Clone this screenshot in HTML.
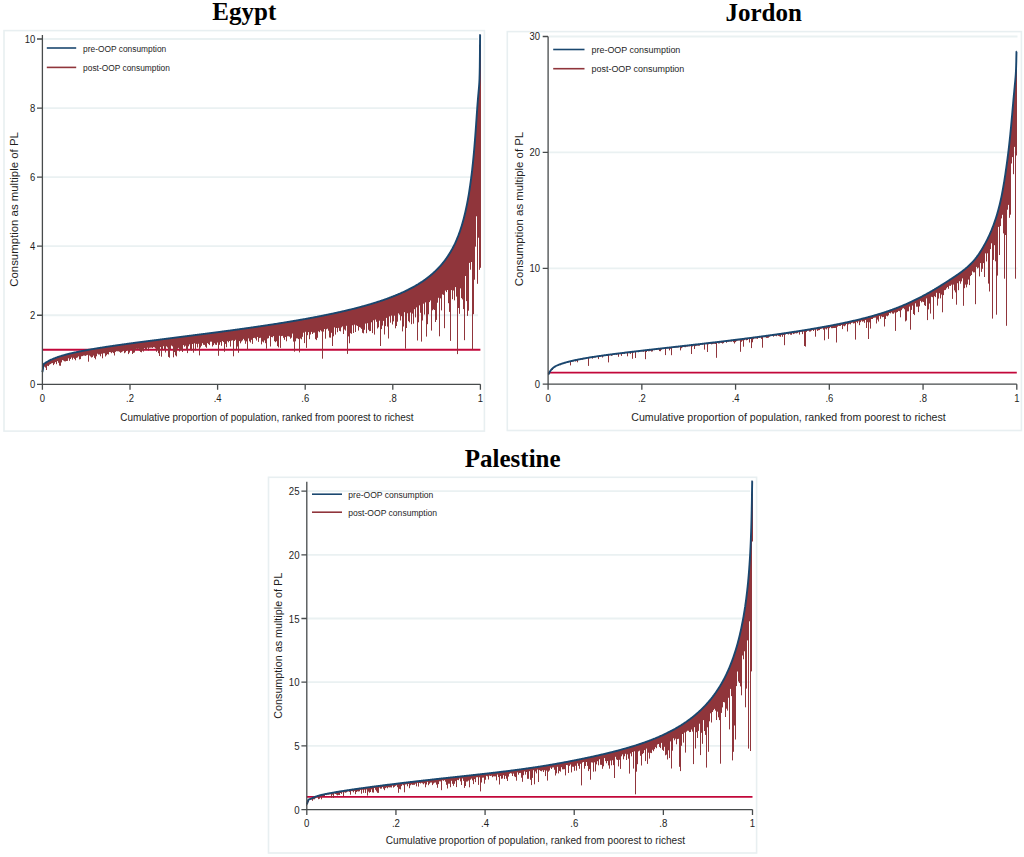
<!DOCTYPE html>
<html><head><meta charset="utf-8"><title>OOP consumption</title>
<style>html,body{margin:0;padding:0;background:#fff;}svg{display:block;}</style></head>
<body><svg width="1024" height="857" viewBox="0 0 1024 857">
<rect width="1024" height="857" fill="#fff"/>
<text x="244.3" y="20" font-family="'Liberation Serif', serif" font-weight="bold" font-size="25" text-anchor="middle" fill="#000">Egypt</text>
<rect x="4" y="30.6" width="480.4" height="400.5" fill="none" stroke="#e8eff1" stroke-width="1.6"/>
<path d="M43.2 315.24H478M43.2 246.18H478M43.2 177.12H478M43.2 108.06H478M43.2 39H478" stroke="#eaf1f2" stroke-width="1.8" fill="none"/>
<path d="M42.4 349.77H480.4" stroke="#c2073a" stroke-width="1.8" fill="none"/>
<path d="M42.5 367.8V374.4M43.5 363.8V367.5M44.5 363.1V366.7M45.5 362.5V367.6M46.5 361.9V370.0M47.5 361.3V365.8M48.5 360.8V366.1M49.5 360.3V364.7M50.5 359.8V364.1M51.5 359.4V363.4M52.5 358.9V363.1M53.5 358.5V365.1M54.5 358.1V363.7M55.5 357.7V362.1M56.5 357.4V364.2M57.5 357.0V361.1M58.5 356.7V362.8M59.5 356.3V365.6M60.5 356.0V365.8M61.5 355.7V362.4M62.5 355.4V360.1M63.5 355.1V360.6M64.5 354.9V361.3M65.5 354.6V361.4M66.5 354.3V361.0M67.5 354.1V360.9M68.5 353.8V358.3M69.5 353.6V360.8M70.5 353.3V359.0M71.5 353.1V357.6M72.5 352.9V359.6M73.5 352.7V357.8M74.5 352.4V358.9M75.5 352.2V360.3M76.5 352.0V357.9M77.5 351.8V357.5M78.5 351.6V356.4M79.5 351.4V359.4M80.5 351.2V359.1M81.5 351.0V356.3M82.5 350.8V356.1M83.5 350.6V355.6M84.5 350.4V355.6M85.5 350.2V355.9M86.5 350.1V355.3M87.5 349.9V354.9M88.5 349.7V361.7M89.5 349.5V355.5M90.5 349.4V356.5M91.5 349.2V357.5M92.5 349.0V357.1M93.5 348.8V355.6M94.5 348.7V357.9M95.5 348.5V359.3M96.5 348.3V356.3M97.5 348.2V353.7M98.5 348.0V354.5M99.5 347.9V354.5M100.5 347.7V356.3M101.5 347.5V353.8M102.5 347.4V358.3M103.5 347.2V353.3M104.5 347.1V353.3M105.5 346.9V356.5M106.5 346.8V355.3M107.5 346.6V354.1M108.5 346.5V354.5M109.5 346.3V352.0M110.5 346.2V352.2M111.5 346.0V353.2M112.5 345.9V352.2M113.5 345.7V353.1M114.5 345.6V355.5M115.5 345.4V351.9M116.5 345.3V351.2M117.5 345.2V351.3M118.5 345.0V351.3M119.5 344.9V351.8M120.5 344.7V352.8M121.5 344.6V352.2M122.5 344.4V351.5M123.5 344.3V350.6M124.5 344.2V353.2M125.5 344.0V352.4M126.5 343.9V351.0M127.5 343.8V349.8M128.5 343.6V354.1M129.5 343.5V352.6M130.5 343.3V349.9M131.5 343.2V349.3M132.5 343.1V354.0M133.5 342.9V352.9M134.5 342.8V352.5M135.5 342.7V350.0M136.5 342.5V348.8M137.5 342.4V349.8M138.5 342.3V348.8M139.5 342.1V350.6M140.5 342.0V351.9M141.5 341.9V352.3M142.5 341.7V350.5M143.5 341.6V351.6M144.5 341.5V348.1M145.5 341.4V349.9M146.5 341.2V349.8M147.5 341.1V347.7M148.5 341.0V350.5M149.5 340.8V347.8M150.5 340.7V347.7M151.5 340.6V347.6M152.5 340.4V348.0M153.5 340.3V347.2M154.5 340.2V347.4M155.5 340.1V348.5M156.5 339.9V351.8M157.5 339.8V349.7M158.5 339.7V353.2M159.5 339.5V356.0M160.5 339.4V347.1M161.5 339.3V356.7M162.5 339.2V349.1M163.5 339.0V346.2M164.5 338.9V349.2M165.5 338.8V352.5M166.5 338.7V346.4M167.5 338.5V347.5M168.5 338.4V356.9M169.5 338.3V357.7M170.5 338.1V349.2M171.5 338.0V345.6M172.5 337.9V346.4M173.5 337.8V357.3M174.5 337.6V352.1M175.5 337.5V355.4M176.5 337.4V356.4M177.5 337.3V348.9M178.5 337.1V347.9M179.5 337.0V351.5M180.5 336.9V350.2M181.5 336.8V349.9M182.5 336.6V352.0M183.5 336.5V345.1M184.5 336.4V346.7M185.5 336.2V345.7M186.5 336.1V349.8M187.5 336.0V353.1M188.5 335.9V346.3M189.5 335.7V344.4M190.5 335.6V349.3M191.5 335.5V350.6M192.5 335.4V344.0M193.5 335.2V352.7M194.5 335.1V343.3M195.5 335.0V350.6M196.5 334.8V343.9M197.5 334.7V347.5M198.5 334.6V343.8M199.5 334.5V355.4M200.5 334.3V347.5M201.5 334.2V345.8M202.5 334.1V343.2M203.5 333.9V344.8M204.5 333.8V344.9M205.5 333.7V346.7M206.5 333.6V347.8M207.5 333.4V343.1M208.5 333.3V344.1M209.5 333.2V345.1M210.5 333.0V341.7M211.5 332.9V341.7M212.5 332.8V346.5M213.5 332.6V345.1M214.5 332.5V343.3M215.5 332.4V344.7M216.5 332.2V344.9M217.5 332.1V342.5M218.5 332.0V355.8M219.5 331.9V344.8M220.5 331.7V342.2M221.5 331.6V345.8M222.5 331.5V341.1M223.5 331.3V342.1M224.5 331.2V351.8M225.5 331.1V343.9M226.5 330.9V347.2M227.5 330.8V341.2M228.5 330.7V342.3M229.5 330.5V341.0M230.5 330.4V346.6M231.5 330.2V340.7M232.5 330.1V340.3M233.5 330.0V342.4M234.5 329.8V340.9M235.5 329.7V339.8M236.5 329.6V349.0M237.5 329.4V346.5M238.5 329.3V352.8M239.5 329.1V341.1M240.5 329.0V343.3M241.5 328.9V341.5M242.5 328.7V340.4M243.5 328.6V338.9M244.5 328.5V340.5M245.5 328.3V343.8M246.5 328.2V341.4M247.5 328.0V349.9M248.5 327.9V338.4M249.5 327.7V341.3M250.5 327.6V342.5M251.5 327.5V339.8M252.5 327.3V343.9M253.5 327.2V338.0M254.5 327.0V337.8M255.5 326.9V338.6M256.5 326.7V340.5M257.5 326.6V337.0M258.5 326.4V341.9M259.5 326.3V338.1M260.5 326.1V337.8M261.5 326.0V344.4M262.5 325.8V341.5M263.5 325.7V342.4M264.5 325.5V340.4M265.5 325.4V343.2M266.5 325.2V348.7M267.5 325.1V338.6M268.5 324.9V338.2M269.5 324.8V335.8M270.5 324.6V346.5M271.5 324.5V337.0M272.5 324.3V337.3M273.5 324.2V336.1M274.5 324.0V341.2M275.5 323.9V342.2M276.5 323.7V341.2M277.5 323.5V346.1M278.5 323.4V347.4M279.5 323.2V335.8M280.5 323.1V347.9M281.5 322.9V336.1M282.5 322.8V335.9M283.5 322.6V337.8M284.5 322.4V339.8M285.5 322.3V337.0M286.5 322.1V341.3M287.5 321.9V336.3M288.5 321.8V336.3M289.5 321.6V336.7M290.5 321.4V338.7M291.5 321.3V337.7M292.5 321.1V333.6M293.5 320.9V341.6M294.5 320.8V351.7M295.5 320.6V341.3M296.5 320.4V338.4M297.5 320.2V338.4M298.5 320.1V339.1M299.5 319.9V352.4M300.5 319.7V338.5M301.5 319.5V339.3M302.5 319.4V336.8M303.5 319.2V332.7M304.5 319.0V343.1M305.5 318.8V331.8M306.5 318.6V347.9M307.5 318.5V335.2M308.5 318.3V332.1M309.5 318.1V339.2M310.5 317.9V334.5M311.5 317.7V331.9M312.5 317.5V334.0M313.5 317.3V332.7M314.5 317.2V332.6M315.5 317.0V339.2M316.5 316.8V340.1M317.5 316.6V337.8M318.5 316.4V331.3M319.5 316.2V332.2M320.5 316.0V330.3M321.5 315.8V331.4M322.5 315.6V330.3M323.5 315.4V331.6M324.5 315.2V329.0M325.5 315.0V338.7M326.5 314.8V329.3M327.5 314.6V328.7M328.5 314.4V330.7M329.5 314.2V337.5M330.5 313.9V337.7M331.5 313.7V332.8M332.5 313.5V346.0M333.5 313.3V336.3M334.5 313.1V327.4M335.5 312.9V334.6M336.5 312.6V328.0M337.5 312.4V332.2M338.5 312.2V327.9M339.5 312.0V330.9M340.5 311.8V331.4M341.5 311.5V327.4M342.5 311.3V326.4M343.5 311.1V334.0M344.5 310.8V329.5M345.5 310.6V330.6M346.5 310.4V325.8M347.5 310.1V333.5M348.5 309.9V336.4M349.5 309.6V343.3M350.5 309.4V333.2M351.5 309.1V333.8M352.5 308.9V325.3M353.5 308.6V333.0M354.5 308.4V324.7M355.5 308.1V332.0M356.5 307.9V325.4M357.5 307.6V326.0M358.5 307.3V330.6M359.5 307.1V327.1M360.5 306.8V327.7M361.5 306.5V328.9M362.5 306.3V332.8M363.5 306.0V333.4M364.5 305.7V329.8M365.5 305.4V323.6M366.5 305.1V333.2M367.5 304.9V323.2M368.5 304.6V329.8M369.5 304.3V331.2M370.5 304.0V331.0M371.5 303.7V322.3M372.5 303.4V333.1M373.5 303.1V320.3M374.5 302.7V334.6M375.5 302.4V319.6M376.5 302.1V321.8M377.5 301.8V328.5M378.5 301.5V327.3M379.5 301.1V320.7M380.5 300.8V346.0M381.5 300.5V329.1M382.5 300.1V325.6M383.5 299.8V320.9M384.5 299.4V334.5M385.5 299.1V326.1M386.5 298.7V317.9M387.5 298.4V326.6M388.5 298.0V338.5M389.5 297.6V316.4M390.5 297.2V322.7M391.5 296.8V315.6M392.5 296.5V324.5M393.5 296.1V321.4M394.5 295.7V315.7M395.5 295.3V328.3M396.5 294.8V326.0M397.5 294.4V321.7M398.5 294.0V313.4M399.5 293.6V314.7M400.5 293.1V320.5M401.5 292.7V316.2M402.5 292.2V331.4M403.5 291.7V326.5M404.5 291.3V312.2M405.5 290.8V313.1M406.5 290.3V328.0M407.5 289.8V313.3M408.5 289.3V321.2M409.5 288.8V322.4M410.5 288.3V312.5M411.5 287.7V324.2M412.5 287.2V313.6M413.5 286.6V323.7M414.5 286.1V309.2M415.5 285.5V317.4M416.5 284.9V307.4M417.5 284.3V340.5M418.5 283.7V322.3M419.5 283.0V305.4M420.5 282.4V312.8M421.5 281.7V341.6M422.5 281.1V320.5M423.5 280.4V303.7M424.5 279.6V314.5M425.5 278.9V302.4M426.5 278.2V336.6M427.5 277.4V324.2M428.5 276.6V314.3M429.5 275.8V302.1M430.5 275.0V300.5M431.5 274.1V330.6M432.5 273.3V310.3M433.5 272.4V309.3M434.5 271.4V310.0M435.5 270.5V322.0M436.5 269.5V319.9M437.5 268.5V302.7M438.5 267.4V297.8M439.5 266.3V310.9M440.5 265.2V298.4M441.5 264.0V310.4M442.5 262.8V294.4M443.5 261.6V294.9M444.5 260.3V328.2M445.5 258.9V290.6M446.5 257.5V292.1M447.5 256.0V290.0M448.5 254.5V303.2M449.5 252.8V311.9M450.5 251.1V340.9M451.5 249.4V290.1M452.5 247.5V299.2M453.5 245.5V290.5M454.5 243.5V300.4M455.5 241.3V287.1M456.5 238.9V296.6M457.5 236.5V354.1M458.5 233.8V308.0M459.5 231.0V313.8M460.5 228.0V288.4M461.5 224.8V298.1M462.5 221.3V299.4M463.5 217.5V309.1M464.5 213.5V340.2M465.5 209.0V276.0M466.5 204.2V272.9M467.5 198.9V315.9M468.5 193.1V310.7M469.5 186.6V262.9M470.5 179.4V269.7M471.5 171.3V262.0M472.5 162.1V265.0M473.5 151.6V314.2M474.5 139.6V279.7M475.5 126.1V246.6M476.5 111.6V216.3M477.5 98.4V283.8M478.5 87.2V237.7M479.5 44.7V269.8M480.5 34.8V267.8M322.5 315.7V358.7M233.5 330.0V356.3M347.5 310.2V353.9M405.5 291.0V348.7M472.5 166.9V349.8M439.5 266.9V336.3M466.5 206.7V301.1" stroke="#90353b" stroke-width="1" fill="none"/>
<polyline points="42.40,372.21 42.89,369.38 43.37,365.10 43.86,363.92 44.35,363.48 44.84,363.21 45.32,362.93 45.81,362.64 46.30,362.34 46.78,362.05 47.27,361.76 47.76,361.48 48.25,361.21 48.73,360.94 49.22,360.68 49.71,360.44 50.20,360.19 50.68,359.96 51.17,359.73 51.66,359.50 52.14,359.29 52.63,359.07 53.12,358.87 53.61,358.66 54.09,358.46 54.58,358.27 55.07,358.08 55.55,357.89 56.04,357.71 56.53,357.53 57.02,357.35 57.50,357.18 57.99,357.01 58.48,356.84 58.97,356.68 59.45,356.52 59.94,356.36 60.43,356.21 60.91,356.05 61.40,355.90 61.89,355.75 62.38,355.61 62.86,355.47 63.35,355.32 63.84,355.18 64.32,355.05 64.81,354.91 65.30,354.78 65.79,354.65 66.27,354.52 66.76,354.39 67.25,354.26 67.73,354.14 68.22,354.02 68.71,353.89 69.20,353.77 69.68,353.66 70.17,353.54 70.66,353.42 71.15,353.31 71.63,353.19 72.12,353.08 72.61,352.97 73.09,352.86 73.58,352.75 74.07,352.64 74.56,352.53 75.04,352.43 75.53,352.32 76.02,352.22 76.50,352.11 76.99,352.01 77.48,351.91 77.97,351.81 78.45,351.71 78.94,351.61 79.43,351.51 79.92,351.41 80.40,351.32 80.89,351.22 81.38,351.12 81.86,351.03 82.35,350.94 82.84,350.84 83.33,350.75 83.81,350.66 84.30,350.56 84.79,350.47 85.27,350.38 85.76,350.29 86.25,350.20 86.74,350.11 87.22,350.02 87.71,349.94 88.20,349.85 88.68,349.76 89.17,349.68 89.66,349.59 90.15,349.50 90.63,349.42 91.12,349.33 91.61,349.25 92.10,349.17 92.58,349.08 93.07,349.00 93.56,348.92 94.04,348.83 94.53,348.75 95.02,348.67 95.51,348.59 95.99,348.51 96.48,348.43 96.97,348.35 97.45,348.27 97.94,348.19 98.43,348.11 98.92,348.03 99.40,347.95 99.89,347.88 100.38,347.80 100.86,347.72 101.35,347.64 101.84,347.57 102.33,347.49 102.81,347.41 103.30,347.34 103.79,347.26 104.28,347.19 104.76,347.11 105.25,347.04 105.74,346.96 106.22,346.89 106.71,346.81 107.20,346.74 107.69,346.66 108.17,346.59 108.66,346.52 109.15,346.44 109.63,346.37 110.12,346.30 110.61,346.23 111.10,346.15 111.58,346.08 112.07,346.01 112.56,345.94 113.05,345.87 113.53,345.80 114.02,345.72 114.51,345.65 114.99,345.58 115.48,345.51 115.97,345.44 116.46,345.37 116.94,345.30 117.43,345.23 117.92,345.16 118.40,345.09 118.89,345.02 119.38,344.95 119.87,344.88 120.35,344.82 120.84,344.75 121.33,344.68 121.81,344.61 122.30,344.54 122.79,344.47 123.28,344.41 123.76,344.34 124.25,344.27 124.74,344.20 125.23,344.13 125.71,344.07 126.20,344.00 126.69,343.93 127.17,343.87 127.66,343.80 128.15,343.73 128.64,343.67 129.12,343.60 129.61,343.53 130.10,343.47 130.58,343.40 131.07,343.33 131.56,343.27 132.05,343.20 132.53,343.14 133.02,343.07 133.51,343.01 134.00,342.94 134.48,342.87 134.97,342.81 135.46,342.74 135.94,342.68 136.43,342.61 136.92,342.55 137.41,342.48 137.89,342.42 138.38,342.35 138.87,342.29 139.35,342.23 139.84,342.16 140.33,342.10 140.82,342.03 141.30,341.97 141.79,341.90 142.28,341.84 142.76,341.78 143.25,341.71 143.74,341.65 144.23,341.58 144.71,341.52 145.20,341.46 145.69,341.39 146.18,341.33 146.66,341.27 147.15,341.20 147.64,341.14 148.12,341.08 148.61,341.01 149.10,340.95 149.59,340.89 150.07,340.82 150.56,340.76 151.05,340.70 151.53,340.63 152.02,340.57 152.51,340.51 153.00,340.45 153.48,340.38 153.97,340.32 154.46,340.26 154.95,340.19 155.43,340.13 155.92,340.07 156.41,340.01 156.89,339.94 157.38,339.88 157.87,339.82 158.36,339.76 158.84,339.69 159.33,339.63 159.82,339.57 160.30,339.51 160.79,339.45 161.28,339.38 161.77,339.32 162.25,339.26 162.74,339.20 163.23,339.13 163.71,339.07 164.20,339.01 164.69,338.95 165.18,338.89 165.66,338.82 166.15,338.76 166.64,338.70 167.13,338.64 167.61,338.58 168.10,338.51 168.59,338.45 169.07,338.39 169.56,338.33 170.05,338.27 170.54,338.21 171.02,338.14 171.51,338.08 172.00,338.02 172.48,337.96 172.97,337.90 173.46,337.83 173.95,337.77 174.43,337.71 174.92,337.65 175.41,337.59 175.89,337.53 176.38,337.46 176.87,337.40 177.36,337.34 177.84,337.28 178.33,337.22 178.82,337.15 179.31,337.09 179.79,337.03 180.28,336.97 180.77,336.91 181.25,336.85 181.74,336.78 182.23,336.72 182.72,336.66 183.20,336.60 183.69,336.54 184.18,336.47 184.66,336.41 185.15,336.35 185.64,336.29 186.13,336.23 186.61,336.17 187.10,336.10 187.59,336.04 188.08,335.98 188.56,335.92 189.05,335.86 189.54,335.79 190.02,335.73 190.51,335.67 191.00,335.61 191.49,335.55 191.97,335.48 192.46,335.42 192.95,335.36 193.43,335.30 193.92,335.23 194.41,335.17 194.90,335.11 195.38,335.05 195.87,334.99 196.36,334.92 196.84,334.86 197.33,334.80 197.82,334.74 198.31,334.67 198.79,334.61 199.28,334.55 199.77,334.49 200.26,334.42 200.74,334.36 201.23,334.30 201.72,334.24 202.20,334.17 202.69,334.11 203.18,334.05 203.67,333.98 204.15,333.92 204.64,333.86 205.13,333.80 205.61,333.73 206.10,333.67 206.59,333.61 207.08,333.54 207.56,333.48 208.05,333.42 208.54,333.35 209.03,333.29 209.51,333.23 210.00,333.16 210.49,333.10 210.97,333.04 211.46,332.97 211.95,332.91 212.44,332.85 212.92,332.78 213.41,332.72 213.90,332.66 214.38,332.59 214.87,332.53 215.36,332.46 215.85,332.40 216.33,332.34 216.82,332.27 217.31,332.21 217.79,332.14 218.28,332.08 218.77,332.02 219.26,331.95 219.74,331.89 220.23,331.82 220.72,331.76 221.21,331.69 221.69,331.63 222.18,331.56 222.67,331.50 223.15,331.43 223.64,331.37 224.13,331.30 224.62,331.24 225.10,331.17 225.59,331.11 226.08,331.04 226.56,330.98 227.05,330.91 227.54,330.85 228.03,330.78 228.51,330.72 229.00,330.65 229.49,330.58 229.98,330.52 230.46,330.45 230.95,330.39 231.44,330.32 231.92,330.26 232.41,330.19 232.90,330.12 233.39,330.06 233.87,329.99 234.36,329.92 234.85,329.86 235.33,329.79 235.82,329.72 236.31,329.66 236.80,329.59 237.28,329.52 237.77,329.46 238.26,329.39 238.74,329.32 239.23,329.25 239.72,329.19 240.21,329.12 240.69,329.05 241.18,328.98 241.67,328.92 242.16,328.85 242.64,328.78 243.13,328.71 243.62,328.64 244.10,328.58 244.59,328.51 245.08,328.44 245.57,328.37 246.05,328.30 246.54,328.23 247.03,328.16 247.51,328.10 248.00,328.03 248.49,327.96 248.98,327.89 249.46,327.82 249.95,327.75 250.44,327.68 250.93,327.61 251.41,327.54 251.90,327.47 252.39,327.40 252.87,327.33 253.36,327.26 253.85,327.19 254.34,327.12 254.82,327.05 255.31,326.98 255.80,326.91 256.28,326.84 256.77,326.77 257.26,326.70 257.75,326.62 258.23,326.55 258.72,326.48 259.21,326.41 259.69,326.34 260.18,326.27 260.67,326.19 261.16,326.12 261.64,326.05 262.13,325.98 262.62,325.91 263.11,325.83 263.59,325.76 264.08,325.69 264.57,325.61 265.05,325.54 265.54,325.47 266.03,325.40 266.52,325.32 267.00,325.25 267.49,325.17 267.98,325.10 268.46,325.03 268.95,324.95 269.44,324.88 269.93,324.80 270.41,324.73 270.90,324.65 271.39,324.58 271.87,324.50 272.36,324.43 272.85,324.35 273.34,324.28 273.82,324.20 274.31,324.13 274.80,324.05 275.29,323.98 275.77,323.90 276.26,323.82 276.75,323.75 277.23,323.67 277.72,323.59 278.21,323.52 278.70,323.44 279.18,323.36 279.67,323.28 280.16,323.21 280.64,323.13 281.13,323.05 281.62,322.97 282.11,322.90 282.59,322.82 283.08,322.74 283.57,322.66 284.06,322.58 284.54,322.50 285.03,322.42 285.52,322.34 286.00,322.26 286.49,322.18 286.98,322.10 287.47,322.02 287.95,321.94 288.44,321.86 288.93,321.78 289.41,321.70 289.90,321.62 290.39,321.54 290.88,321.46 291.36,321.38 291.85,321.29 292.34,321.21 292.82,321.13 293.31,321.05 293.80,320.96 294.29,320.88 294.77,320.80 295.26,320.72 295.75,320.63 296.24,320.55 296.72,320.46 297.21,320.38 297.70,320.30 298.18,320.21 298.67,320.13 299.16,320.04 299.65,319.96 300.13,319.87 300.62,319.79 301.11,319.70 301.59,319.61 302.08,319.53 302.57,319.44 303.06,319.35 303.54,319.27 304.03,319.18 304.52,319.09 305.01,319.01 305.49,318.92 305.98,318.83 306.47,318.74 306.95,318.65 307.44,318.56 307.93,318.48 308.42,318.39 308.90,318.30 309.39,318.21 309.88,318.12 310.36,318.03 310.85,317.94 311.34,317.85 311.83,317.75 312.31,317.66 312.80,317.57 313.29,317.48 313.77,317.39 314.26,317.30 314.75,317.20 315.24,317.11 315.72,317.02 316.21,316.92 316.70,316.83 317.19,316.74 317.67,316.64 318.16,316.55 318.65,316.45 319.13,316.36 319.62,316.26 320.11,316.17 320.60,316.07 321.08,315.97 321.57,315.88 322.06,315.78 322.54,315.68 323.03,315.59 323.52,315.49 324.01,315.39 324.49,315.29 324.98,315.19 325.47,315.09 325.96,314.99 326.44,314.89 326.93,314.79 327.42,314.69 327.90,314.59 328.39,314.49 328.88,314.39 329.37,314.29 329.85,314.19 330.34,314.09 330.83,313.98 331.31,313.88 331.80,313.78 332.29,313.67 332.78,313.57 333.26,313.46 333.75,313.36 334.24,313.25 334.72,313.15 335.21,313.04 335.70,312.94 336.19,312.83 336.67,312.72 337.16,312.61 337.65,312.51 338.14,312.40 338.62,312.29 339.11,312.18 339.60,312.07 340.08,311.96 340.57,311.85 341.06,311.74 341.55,311.63 342.03,311.52 342.52,311.41 343.01,311.29 343.49,311.18 343.98,311.07 344.47,310.95 344.96,310.84 345.44,310.72 345.93,310.61 346.42,310.49 346.91,310.38 347.39,310.26 347.88,310.15 348.37,310.03 348.85,309.91 349.34,309.79 349.83,309.67 350.32,309.55 350.80,309.43 351.29,309.31 351.78,309.19 352.26,309.07 352.75,308.95 353.24,308.83 353.73,308.71 354.21,308.58 354.70,308.46 355.19,308.33 355.67,308.21 356.16,308.08 356.65,307.96 357.14,307.83 357.62,307.70 358.11,307.58 358.60,307.45 359.09,307.32 359.57,307.19 360.06,307.06 360.55,306.93 361.03,306.80 361.52,306.67 362.01,306.53 362.50,306.40 362.98,306.27 363.47,306.13 363.96,306.00 364.44,305.86 364.93,305.73 365.42,305.59 365.91,305.45 366.39,305.31 366.88,305.17 367.37,305.04 367.85,304.89 368.34,304.75 368.83,304.61 369.32,304.47 369.80,304.33 370.29,304.18 370.78,304.04 371.27,303.89 371.75,303.75 372.24,303.60 372.73,303.45 373.21,303.30 373.70,303.15 374.19,303.00 374.68,302.85 375.16,302.70 375.65,302.55 376.14,302.39 376.62,302.24 377.11,302.08 377.60,301.93 378.09,301.77 378.57,301.61 379.06,301.45 379.55,301.29 380.04,301.13 380.52,300.97 381.01,300.81 381.50,300.64 381.98,300.48 382.47,300.31 382.96,300.14 383.45,299.98 383.93,299.81 384.42,299.64 384.91,299.47 385.39,299.30 385.88,299.12 386.37,298.95 386.86,298.77 387.34,298.60 387.83,298.42 388.32,298.24 388.80,298.06 389.29,297.88 389.78,297.70 390.27,297.51 390.75,297.33 391.24,297.14 391.73,296.95 392.22,296.76 392.70,296.57 393.19,296.38 393.68,296.19 394.16,296.00 394.65,295.80 395.14,295.60 395.63,295.40 396.11,295.20 396.60,295.00 397.09,294.80 397.57,294.60 398.06,294.39 398.55,294.18 399.04,293.97 399.52,293.76 400.01,293.55 400.50,293.34 400.99,293.12 401.47,292.90 401.96,292.68 402.45,292.46 402.93,292.24 403.42,292.02 403.91,291.79 404.40,291.56 404.88,291.33 405.37,291.10 405.86,290.86 406.34,290.63 406.83,290.39 407.32,290.15 407.81,289.91 408.29,289.66 408.78,289.42 409.27,289.17 409.75,288.92 410.24,288.66 410.73,288.41 411.22,288.15 411.70,287.89 412.19,287.62 412.68,287.36 413.17,287.09 413.65,286.82 414.14,286.55 414.63,286.27 415.11,285.99 415.60,285.71 416.09,285.43 416.58,285.14 417.06,284.85 417.55,284.55 418.04,284.26 418.52,283.96 419.01,283.66 419.50,283.35 419.99,283.04 420.47,282.73 420.96,282.41 421.45,282.09 421.94,281.77 422.42,281.44 422.91,281.11 423.40,280.78 423.88,280.44 424.37,280.10 424.86,279.75 425.35,279.40 425.83,279.05 426.32,278.69 426.81,278.32 427.29,277.95 427.78,277.58 428.27,277.20 428.76,276.82 429.24,276.43 429.73,276.04 430.22,275.64 430.70,275.24 431.19,274.83 431.68,274.42 432.17,274.00 432.65,273.57 433.14,273.14 433.63,272.70 434.12,272.26 434.60,271.81 435.09,271.35 435.58,270.89 436.06,270.42 436.55,269.94 437.04,269.45 437.53,268.96 438.01,268.46 438.50,267.95 438.99,267.43 439.47,266.90 439.96,266.37 440.45,265.82 440.94,265.27 441.42,264.71 441.91,264.14 442.40,263.55 442.88,262.96 443.37,262.35 443.86,261.74 444.35,261.11 444.83,260.47 445.32,259.82 445.81,259.16 446.30,258.48 446.78,257.79 447.27,257.08 447.76,256.36 448.24,255.62 448.73,254.87 449.22,254.10 449.71,253.32 450.19,252.52 450.68,251.69 451.17,250.85 451.65,249.99 452.14,249.11 452.63,248.21 453.12,247.28 453.60,246.33 454.09,245.36 454.58,244.35 455.07,243.33 455.55,242.27 456.04,241.18 456.53,240.07 457.01,238.92 457.50,237.73 457.99,236.51 458.48,235.25 458.96,233.95 459.45,232.60 459.94,231.21 460.42,229.78 460.91,228.29 461.40,226.75 461.89,225.16 462.37,223.51 462.86,221.80 463.35,220.02 463.83,218.17 464.32,216.26 464.81,214.26 465.30,212.18 465.78,210.02 466.27,207.76 466.76,205.40 467.25,202.94 467.73,200.36 468.22,197.66 468.71,194.83 469.19,191.86 469.68,188.73 470.17,185.44 470.66,181.96 471.14,178.29 471.63,174.40 471.64,174.32 471.79,173.09 471.94,171.83 472.09,170.55 472.12,170.28 472.23,169.25 472.38,167.92 472.53,166.57 472.60,165.89 472.68,165.19 472.83,163.78 472.98,162.35 473.09,161.21 473.12,160.89 473.27,159.39 473.42,157.87 473.57,156.31 473.58,156.22 473.72,154.72 473.87,153.10 474.02,151.45 474.07,150.87 474.16,149.76 474.31,148.03 474.46,146.28 474.55,145.17 474.61,144.49 474.76,142.66 474.91,140.80 475.04,139.09 475.05,138.90 475.20,136.97 475.35,135.01 475.50,133.01 475.53,132.64 475.65,130.99 475.80,128.93 475.95,126.85 476.02,125.86 476.09,124.74 476.24,122.61 476.39,120.46 476.50,118.85 476.54,118.30 476.69,116.14 476.84,113.98 476.99,111.84 476.99,111.77 477.13,109.72 477.28,107.64 477.43,105.62 477.48,105.00 477.58,103.65 477.73,101.74 477.88,99.89 477.96,98.82 478.02,98.10 478.17,96.37 478.32,94.69 478.45,93.26 478.47,93.06 478.62,91.46 478.77,89.85 478.92,88.21 478.94,87.94 479.06,86.44 479.21,84.43 479.36,81.96 479.43,80.66 479.51,78.67 479.66,73.85 479.81,66.02 479.91,56.74 479.95,51.67 480.10,34.84 480.25,34.84 480.40,34.84" stroke="#1a476f" stroke-width="1.9" fill="none" stroke-linejoin="round" stroke-linecap="butt"/>
<path d="M42.4 35V384.3H480.4M37 384.3H42.4M37 315.24H42.4M37 246.18H42.4M37 177.12H42.4M37 108.06H42.4M37 39H42.4M42.4 384.3V389.8M130 384.3V389.8M217.6 384.3V389.8M305.2 384.3V389.8M392.8 384.3V389.8M480.4 384.3V389.8" stroke="#474b4c" stroke-width="1.3" fill="none"/>
<text transform="translate(35.3 388.23) scale(0.930 1)" font-family="'Liberation Sans', sans-serif" font-weight="normal" font-size="10.2" text-anchor="end" fill="#1e1e1e">0</text>
<text transform="translate(35.3 319.17) scale(0.930 1)" font-family="'Liberation Sans', sans-serif" font-weight="normal" font-size="10.2" text-anchor="end" fill="#1e1e1e">2</text>
<text transform="translate(35.3 250.11) scale(0.930 1)" font-family="'Liberation Sans', sans-serif" font-weight="normal" font-size="10.2" text-anchor="end" fill="#1e1e1e">4</text>
<text transform="translate(35.3 181.05) scale(0.930 1)" font-family="'Liberation Sans', sans-serif" font-weight="normal" font-size="10.2" text-anchor="end" fill="#1e1e1e">6</text>
<text transform="translate(35.3 111.99) scale(0.930 1)" font-family="'Liberation Sans', sans-serif" font-weight="normal" font-size="10.2" text-anchor="end" fill="#1e1e1e">8</text>
<text transform="translate(35.3 42.93) scale(0.930 1)" font-family="'Liberation Sans', sans-serif" font-weight="normal" font-size="10.2" text-anchor="end" fill="#1e1e1e">10</text>
<text transform="translate(42.4 401.95) scale(0.930 1)" font-family="'Liberation Sans', sans-serif" font-weight="normal" font-size="10.2" text-anchor="middle" fill="#1e1e1e">0</text>
<text transform="translate(130 401.95) scale(0.930 1)" font-family="'Liberation Sans', sans-serif" font-weight="normal" font-size="10.2" text-anchor="middle" fill="#1e1e1e">.2</text>
<text transform="translate(217.6 401.95) scale(0.930 1)" font-family="'Liberation Sans', sans-serif" font-weight="normal" font-size="10.2" text-anchor="middle" fill="#1e1e1e">.4</text>
<text transform="translate(305.2 401.95) scale(0.930 1)" font-family="'Liberation Sans', sans-serif" font-weight="normal" font-size="10.2" text-anchor="middle" fill="#1e1e1e">.6</text>
<text transform="translate(392.8 401.95) scale(0.930 1)" font-family="'Liberation Sans', sans-serif" font-weight="normal" font-size="10.2" text-anchor="middle" fill="#1e1e1e">.8</text>
<text transform="translate(480.4 401.95) scale(0.930 1)" font-family="'Liberation Sans', sans-serif" font-weight="normal" font-size="10.2" text-anchor="middle" fill="#1e1e1e">1</text>
<text transform="translate(266.9 421) scale(0.909 1)" font-family="'Liberation Sans', sans-serif" font-weight="normal" font-size="10.9" text-anchor="middle" fill="#1e1e1e">Cumulative proportion of population, ranked from poorest to richest</text>
<text transform="translate(17.9 209.45) rotate(-90)" font-family="'Liberation Sans', sans-serif" font-size="11.2" text-anchor="middle" fill="#1e1e1e" textLength="154.6" lengthAdjust="spacingAndGlyphs">Consumption as multiple of PL</text>
<path d="M46.8 48H76.2" stroke="#1a476f" stroke-width="1.6"/>
<path d="M46.8 67.4H76.2" stroke="#90353b" stroke-width="1.6"/>
<text transform="translate(83.1 52) scale(0.930 1)" font-family="'Liberation Sans', sans-serif" font-weight="normal" font-size="9.0" text-anchor="start" fill="#1e1e1e">pre-OOP consumption</text>
<text transform="translate(83.1 71.1) scale(0.930 1)" font-family="'Liberation Sans', sans-serif" font-weight="normal" font-size="9.0" text-anchor="start" fill="#1e1e1e">post-OOP consumption</text>
<text x="763.7" y="20.9" font-family="'Liberation Serif', serif" font-weight="bold" font-size="25" text-anchor="middle" fill="#000">Jordon</text>
<rect x="507.3" y="31.6" width="514.1" height="398.9" fill="none" stroke="#e8eff1" stroke-width="1.6"/>
<path d="M548.9 268.3H1017.5M548.9 152.4H1017.5M548.9 36.5H1017.5" stroke="#eaf1f2" stroke-width="1.8" fill="none"/>
<path d="M548.1 372.61H1016.8" stroke="#c2073a" stroke-width="1.8" fill="none"/>
<path d="M548.5 373.3V374.5M549.5 371.5V374.0M550.5 370.1V371.4M551.5 368.9V369.7M552.5 368.0V370.0M553.5 367.2V368.0M554.5 366.5V367.3M555.5 366.0V366.7M556.5 365.5V366.0M557.5 365.1V365.7M558.5 364.7V365.4M559.5 364.3V365.1M560.5 364.0V365.2M561.5 363.6V364.1M562.5 363.3V364.0M563.5 363.0V363.7M564.5 362.7V363.3M565.5 362.4V363.2M566.5 362.1V363.0M567.5 361.9V362.7M568.5 361.6V362.3M569.5 361.3V362.0M570.5 361.1V365.4M571.5 360.9V361.5M572.5 360.6V361.5M573.5 360.4V361.4M574.5 360.2V361.0M575.5 360.0V361.5M576.5 359.8V361.1M577.5 359.6V362.3M578.5 359.4V360.0M579.5 359.2V359.8M580.5 359.0V359.8M581.5 358.8V359.5M582.5 358.6V359.6M583.5 358.5V359.2M584.5 358.3V358.7M585.5 358.1V359.1M586.5 357.9V358.4M587.5 357.8V358.2M588.5 357.6V365.9M589.5 357.4V358.1M590.5 357.3V357.7M591.5 357.1V357.7M592.5 357.0V358.7M593.5 356.8V357.5M594.5 356.7V357.4M595.5 356.5V357.5M596.5 356.4V356.8M597.5 356.2V357.0M598.5 356.1V359.1M599.5 355.9V356.8M600.5 355.8V356.8M601.5 355.6V356.1M602.5 355.5V357.5M603.5 355.4V356.2M604.5 355.2V355.9M605.5 355.1V356.1M606.5 355.0V355.9M607.5 354.8V356.0M608.5 354.7V362.4M609.5 354.6V355.3M610.5 354.4V355.0M611.5 354.3V355.9M612.5 354.2V355.3M613.5 354.0V354.6M614.5 353.9V354.6M615.5 353.8V354.3M616.5 353.7V354.8M617.5 353.5V354.4M618.5 353.4V356.8M619.5 353.3V354.1M620.5 353.2V354.1M621.5 353.0V355.9M622.5 352.9V353.7M623.5 352.8V353.8M624.5 352.7V353.9M625.5 352.5V353.2M626.5 352.4V353.1M627.5 352.3V356.3M628.5 352.2V353.1M629.5 352.1V353.3M630.5 351.9V353.9M631.5 351.8V352.4M632.5 351.7V358.8M633.5 351.6V352.6M634.5 351.5V352.1M635.5 351.3V358.0M636.5 351.2V351.8M637.5 351.1V351.8M638.5 351.0V352.3M639.5 350.9V351.7M640.5 350.8V351.4M641.5 350.6V351.3M642.5 350.5V351.5M643.5 350.4V351.8M644.5 350.3V351.3M645.5 350.2V359.2M646.5 350.1V352.0M647.5 350.0V350.8M648.5 349.8V351.3M649.5 349.7V351.2M650.5 349.6V350.6M651.5 349.5V351.6M652.5 349.4V351.4M653.5 349.3V349.9M654.5 349.2V350.1M655.5 349.0V350.0M656.5 348.9V350.0M657.5 348.8V349.6M658.5 348.7V349.4M659.5 348.6V351.1M660.5 348.5V351.2M661.5 348.4V349.7M662.5 348.3V349.0M663.5 348.1V348.9M664.5 348.0V348.6M665.5 347.9V355.1M666.5 347.8V348.5M667.5 347.7V348.3M668.5 347.6V348.4M669.5 347.5V350.4M670.5 347.4V348.7M671.5 347.2V348.1M672.5 347.1V347.8M673.5 347.0V347.8M674.5 346.9V347.6M675.5 346.8V347.6M676.5 346.7V347.3M677.5 346.6V347.5M678.5 346.4V347.3M679.5 346.3V347.0M680.5 346.2V350.4M681.5 346.1V348.2M682.5 346.0V347.4M683.5 345.9V346.8M684.5 345.8V347.1M685.5 345.7V347.2M686.5 345.5V346.6M687.5 345.4V346.5M688.5 345.3V346.3M689.5 345.2V346.3M690.5 345.1V346.1M691.5 345.0V354.0M692.5 344.9V346.5M693.5 344.7V345.6M694.5 344.6V349.0M695.5 344.5V346.1M696.5 344.4V345.7M697.5 344.3V345.6M698.5 344.2V345.7M699.5 344.1V345.7M700.5 343.9V344.7M701.5 343.8V344.6M702.5 343.7V344.7M703.5 343.6V344.3M704.5 343.5V349.6M705.5 343.4V344.1M706.5 343.2V344.2M707.5 343.1V352.0M708.5 343.0V344.4M709.5 342.9V343.8M710.5 342.8V343.9M711.5 342.7V344.4M712.5 342.5V344.1M713.5 342.4V343.8M714.5 342.3V343.8M715.5 342.2V344.0M716.5 342.1V342.9M717.5 342.0V342.8M718.5 341.8V343.5M719.5 341.7V343.4M720.5 341.6V342.6M721.5 341.5V343.0M722.5 341.4V343.6M723.5 341.2V343.1M724.5 341.1V342.0M725.5 341.0V341.9M726.5 340.9V342.8M727.5 340.8V341.7M728.5 340.6V341.7M729.5 340.5V341.5M730.5 340.4V341.4M731.5 340.3V341.7M732.5 340.1V341.0M733.5 340.0V342.1M734.5 339.9V343.5M735.5 339.8V342.1M736.5 339.7V341.2M737.5 339.5V340.7M738.5 339.4V340.4M739.5 339.3V340.5M740.5 339.2V351.8M741.5 339.0V341.8M742.5 338.9V340.7M743.5 338.8V346.7M744.5 338.6V340.1M745.5 338.5V339.4M746.5 338.4V340.3M747.5 338.3V340.0M748.5 338.1V339.0M749.5 338.0V342.5M750.5 337.9V338.8M751.5 337.7V348.1M752.5 337.6V342.3M753.5 337.5V339.2M754.5 337.4V338.4M755.5 337.2V338.4M756.5 337.1V338.5M757.5 337.0V338.9M758.5 336.8V337.7M759.5 336.7V337.9M760.5 336.6V337.5M761.5 336.4V338.9M762.5 336.3V338.4M763.5 336.2V337.2M764.5 336.0V337.3M765.5 335.9V337.3M766.5 335.7V337.9M767.5 335.6V337.9M768.5 335.5V337.7M769.5 335.3V336.7M770.5 335.2V336.1M771.5 335.1V336.1M772.5 334.9V335.9M773.5 334.8V336.7M774.5 334.6V335.6M775.5 334.5V335.7M776.5 334.4V336.2M777.5 334.2V335.2M778.5 334.1V335.9M779.5 333.9V336.3M780.5 333.8V336.8M781.5 333.6V335.1M782.5 333.5V336.8M783.5 333.3V335.0M784.5 333.2V345.2M785.5 333.0V334.6M786.5 332.9V333.9M787.5 332.7V334.1M788.5 332.6V334.5M789.5 332.4V333.6M790.5 332.3V334.7M791.5 332.1V334.8M792.5 332.0V333.3M793.5 331.8V334.1M794.5 331.7V333.6M795.5 331.5V333.2M796.5 331.4V333.4M797.5 331.2V333.1M798.5 331.1V332.3M799.5 330.9V334.6M800.5 330.7V331.8M801.5 330.6V331.8M802.5 330.4V334.1M803.5 330.3V331.6M804.5 330.1V346.0M805.5 329.9V346.6M806.5 329.8V331.9M807.5 329.6V330.8M808.5 329.5V330.6M809.5 329.3V331.6M810.5 329.1V331.5M811.5 329.0V330.7M812.5 328.8V330.0M813.5 328.6V331.0M814.5 328.4V329.7M815.5 328.3V336.7M816.5 328.1V329.4M817.5 327.9V330.9M818.5 327.7V330.2M819.5 327.6V330.1M820.5 327.4V329.0M821.5 327.2V328.7M822.5 327.0V328.4M823.5 326.9V329.7M824.5 326.7V340.3M825.5 326.5V328.7M826.5 326.3V329.4M827.5 326.1V328.2M828.5 325.9V338.9M829.5 325.7V328.2M830.5 325.5V327.2M831.5 325.4V328.2M832.5 325.2V328.2M833.5 325.0V328.0M834.5 324.8V328.0M835.5 324.6V327.9M836.5 324.4V326.8M837.5 324.2V326.7M838.5 324.0V325.9M839.5 323.8V326.0M840.5 323.6V325.9M841.5 323.4V325.0M842.5 323.1V329.1M843.5 322.9V325.7M844.5 322.7V326.3M845.5 322.5V325.4M846.5 322.3V324.0M847.5 322.1V331.5M848.5 321.8V324.4M849.5 321.6V323.8M850.5 321.4V324.3M851.5 321.2V322.9M852.5 320.9V322.7M853.5 320.7V323.5M854.5 320.5V323.2M855.5 320.2V339.6M856.5 320.0V321.9M857.5 319.8V323.2M858.5 319.5V321.4M859.5 319.3V325.2M860.5 319.0V322.2M861.5 318.8V320.7M862.5 318.5V321.7M863.5 318.3V321.3M864.5 318.0V322.8M865.5 317.7V320.0M866.5 317.5V328.0M867.5 317.2V322.2M868.5 316.9V319.1M869.5 316.7V322.3M870.5 316.4V328.6M871.5 316.1V319.0M872.5 315.8V319.0M873.5 315.6V317.9M874.5 315.3V317.7M875.5 315.0V317.6M876.5 314.7V323.5M877.5 314.4V319.6M878.5 314.1V321.5M879.5 313.8V316.1M880.5 313.5V318.8M881.5 313.1V316.4M882.5 312.8V317.2M883.5 312.5V316.9M884.5 312.2V326.5M885.5 311.8V319.0M886.5 311.5V315.8M887.5 311.2V316.3M888.5 310.8V315.3M889.5 310.5V313.0M890.5 310.1V313.4M891.5 309.8V312.3M892.5 309.4V313.5M893.5 309.0V313.7M894.5 308.6V312.5M895.5 308.3V330.9M896.5 307.9V312.5M897.5 307.5V312.0M898.5 307.1V310.9M899.5 306.7V311.2M900.5 306.3V317.3M901.5 305.9V310.2M902.5 305.5V308.6M903.5 305.0V308.2M904.5 304.6V309.3M905.5 304.2V321.4M906.5 303.7V320.5M907.5 303.3V311.4M908.5 302.8V311.3M909.5 302.4V306.6M910.5 301.9V313.6M911.5 301.5V309.9M912.5 301.0V305.6M913.5 300.5V314.0M914.5 300.0V315.1M915.5 299.5V303.3M916.5 299.0V306.7M917.5 298.5V306.7M918.5 298.0V312.1M919.5 297.5V306.4M920.5 297.0V300.9M921.5 296.5V302.4M922.5 295.9V301.6M923.5 295.4V302.0M924.5 294.9V305.2M925.5 294.3V306.0M926.5 293.8V298.4M927.5 293.2V320.1M928.5 292.6V309.4M929.5 292.1V303.5M930.5 291.5V313.6M931.5 290.9V296.8M932.5 290.3V297.2M933.5 289.7V299.7M934.5 289.1V296.2M935.5 288.5V297.1M936.5 287.9V292.8M937.5 287.3V305.6M938.5 286.7V298.6M939.5 286.1V293.2M940.5 285.5V298.4M941.5 284.8V294.6M942.5 284.2V312.3M943.5 283.6V295.1M944.5 282.9V290.2M945.5 282.3V289.9M946.5 281.6V288.4M947.5 281.0V287.1M948.5 280.4V288.8M949.5 279.7V285.8M950.5 279.0V285.9M951.5 278.4V284.7M952.5 277.7V298.9M953.5 277.1V284.6M954.5 276.4V290.4M955.5 275.7V292.4M956.5 275.0V304.7M957.5 274.3V283.2M958.5 273.6V290.2M959.5 272.9V281.2M960.5 272.2V283.7M961.5 271.4V281.4M962.5 270.7V278.4M963.5 269.9V305.8M964.5 269.1V288.2M965.5 268.3V284.6M966.5 267.4V287.4M967.5 266.5V284.4M968.5 265.6V279.6M969.5 264.7V285.1M970.5 263.7V276.1M971.5 262.6V275.0M972.5 261.6V271.4M973.5 260.4V272.4M974.5 259.2V272.3M975.5 258.0V267.8M976.5 256.6V266.9M977.5 255.2V268.4M978.5 253.8V267.6M979.5 252.3V276.4M980.5 250.7V263.1M981.5 249.1V271.9M982.5 247.4V268.8M983.5 245.6V263.1M984.5 243.8V277.0M985.5 242.0V253.4M986.5 240.0V261.5M987.5 238.0V253.3M988.5 235.9V283.6M989.5 233.7V256.1M990.5 231.4V249.1M991.5 229.0V243.3M992.5 226.4V318.6M993.5 223.7V259.9M994.5 220.9V245.2M995.5 217.9V261.3M996.5 214.6V253.9M997.5 211.1V275.6M998.5 207.4V226.9M999.5 203.3V255.0M1000.5 198.9V226.1M1001.5 194.0V218.4M1002.5 188.6V214.8M1003.5 182.8V233.4M1004.5 176.5V226.5M1005.5 169.7V235.0M1006.5 162.5V325.8M1007.5 154.9V209.7M1008.5 146.6V204.9M1009.5 137.3V217.8M1010.5 127.2V214.7M1011.5 116.2V163.5M1012.5 104.9V157.1M1013.5 93.8V174.2M1014.5 83.3V146.9M1015.5 70.2V195.9M1016.5 51.7V155.5M716.5 342.1V357.8M671.5 347.3V355.2M762.5 336.4V347.7M836.5 324.5V342.5M868.5 317.1V339.0M910.5 302.2V329.7M933.5 290.0V319.3M975.5 258.6V304.2M989.5 234.8V291.5M996.5 216.3V314.7M1004.5 179.7V278.7M1015.5 77.8V278.7" stroke="#90353b" stroke-width="1" fill="none"/>
<polyline points="548.10,374.35 548.62,374.06 549.14,372.97 549.66,372.00 550.19,371.17 550.71,370.43 551.23,369.78 551.75,369.19 552.27,368.66 552.79,368.18 553.31,367.74 553.83,367.33 554.36,366.96 554.88,366.62 555.40,366.31 555.92,366.02 556.44,365.75 556.96,365.50 557.48,365.27 558.01,365.05 558.53,364.85 559.05,364.65 559.57,364.46 560.09,364.27 560.61,364.10 561.13,363.92 561.66,363.75 562.18,363.58 562.70,363.41 563.22,363.25 563.74,363.08 564.26,362.92 564.78,362.77 565.30,362.61 565.83,362.46 566.35,362.31 566.87,362.17 567.39,362.02 567.91,361.88 568.43,361.75 568.95,361.61 569.48,361.48 570.00,361.35 570.52,361.22 571.04,361.10 571.56,360.97 572.08,360.85 572.60,360.73 573.13,360.61 573.65,360.50 574.17,360.38 574.69,360.27 575.21,360.16 575.73,360.05 576.25,359.94 576.77,359.83 577.30,359.72 577.82,359.62 578.34,359.52 578.86,359.41 579.38,359.31 579.90,359.21 580.42,359.11 580.95,359.01 581.47,358.92 581.99,358.82 582.51,358.73 583.03,358.63 583.55,358.54 584.07,358.45 584.59,358.35 585.12,358.26 585.64,358.17 586.16,358.08 586.68,358.00 587.20,357.91 587.72,357.82 588.24,357.73 588.77,357.65 589.29,357.56 589.81,357.48 590.33,357.39 590.85,357.31 591.37,357.23 591.89,357.15 592.42,357.06 592.94,356.98 593.46,356.90 593.98,356.82 594.50,356.74 595.02,356.66 595.54,356.58 596.06,356.51 596.59,356.43 597.11,356.35 597.63,356.27 598.15,356.20 598.67,356.12 599.19,356.05 599.71,355.97 600.24,355.90 600.76,355.82 601.28,355.75 601.80,355.67 602.32,355.60 602.84,355.53 603.36,355.45 603.89,355.38 604.41,355.31 604.93,355.24 605.45,355.17 605.97,355.10 606.49,355.03 607.01,354.95 607.53,354.88 608.06,354.81 608.58,354.74 609.10,354.68 609.62,354.61 610.14,354.54 610.66,354.47 611.18,354.40 611.71,354.33 612.23,354.26 612.75,354.20 613.27,354.13 613.79,354.06 614.31,353.99 614.83,353.93 615.36,353.86 615.88,353.79 616.40,353.73 616.92,353.66 617.44,353.60 617.96,353.53 618.48,353.46 619.00,353.40 619.53,353.33 620.05,353.27 620.57,353.20 621.09,353.14 621.61,353.08 622.13,353.01 622.65,352.95 623.18,352.88 623.70,352.82 624.22,352.75 624.74,352.69 625.26,352.63 625.78,352.56 626.30,352.50 626.82,352.44 627.35,352.38 627.87,352.31 628.39,352.25 628.91,352.19 629.43,352.12 629.95,352.06 630.47,352.00 631.00,351.94 631.52,351.88 632.04,351.81 632.56,351.75 633.08,351.69 633.60,351.63 634.12,351.57 634.65,351.51 635.17,351.44 635.69,351.38 636.21,351.32 636.73,351.26 637.25,351.20 637.77,351.14 638.29,351.08 638.82,351.02 639.34,350.96 639.86,350.90 640.38,350.84 640.90,350.77 641.42,350.71 641.94,350.65 642.47,350.59 642.99,350.53 643.51,350.47 644.03,350.41 644.55,350.35 645.07,350.29 645.59,350.23 646.12,350.17 646.64,350.11 647.16,350.05 647.68,349.99 648.20,349.93 648.72,349.87 649.24,349.81 649.76,349.75 650.29,349.70 650.81,349.64 651.33,349.58 651.85,349.52 652.37,349.46 652.89,349.40 653.41,349.34 653.94,349.28 654.46,349.22 654.98,349.16 655.50,349.10 656.02,349.04 656.54,348.98 657.06,348.92 657.58,348.87 658.11,348.81 658.63,348.75 659.15,348.69 659.67,348.63 660.19,348.57 660.71,348.51 661.23,348.45 661.76,348.39 662.28,348.33 662.80,348.28 663.32,348.22 663.84,348.16 664.36,348.10 664.88,348.04 665.41,347.98 665.93,347.92 666.45,347.86 666.97,347.80 667.49,347.75 668.01,347.69 668.53,347.63 669.05,347.57 669.58,347.51 670.10,347.45 670.62,347.39 671.14,347.33 671.66,347.28 672.18,347.22 672.70,347.16 673.23,347.10 673.75,347.04 674.27,346.98 674.79,346.92 675.31,346.86 675.83,346.80 676.35,346.75 676.88,346.69 677.40,346.63 677.92,346.57 678.44,346.51 678.96,346.45 679.48,346.39 680.00,346.33 680.52,346.28 681.05,346.22 681.57,346.16 682.09,346.10 682.61,346.04 683.13,345.98 683.65,345.92 684.17,345.86 684.70,345.80 685.22,345.74 685.74,345.68 686.26,345.63 686.78,345.57 687.30,345.51 687.82,345.45 688.35,345.39 688.87,345.33 689.39,345.27 689.91,345.21 690.43,345.15 690.95,345.09 691.47,345.03 691.99,344.97 692.52,344.91 693.04,344.85 693.56,344.80 694.08,344.74 694.60,344.68 695.12,344.62 695.64,344.56 696.17,344.50 696.69,344.44 697.21,344.38 697.73,344.32 698.25,344.26 698.77,344.20 699.29,344.14 699.81,344.08 700.34,344.02 700.86,343.96 701.38,343.90 701.90,343.84 702.42,343.78 702.94,343.72 703.46,343.66 703.99,343.60 704.51,343.54 705.03,343.48 705.55,343.42 706.07,343.35 706.59,343.29 707.11,343.23 707.64,343.17 708.16,343.11 708.68,343.05 709.20,342.99 709.72,342.93 710.24,342.87 710.76,342.81 711.28,342.75 711.81,342.69 712.33,342.62 712.85,342.56 713.37,342.50 713.89,342.44 714.41,342.38 714.93,342.32 715.46,342.26 715.98,342.19 716.50,342.13 717.02,342.07 717.54,342.01 718.06,341.95 718.58,341.89 719.11,341.82 719.63,341.76 720.15,341.70 720.67,341.64 721.19,341.57 721.71,341.51 722.23,341.45 722.75,341.39 723.28,341.33 723.80,341.26 724.32,341.20 724.84,341.14 725.36,341.07 725.88,341.01 726.40,340.95 726.93,340.89 727.45,340.82 727.97,340.76 728.49,340.70 729.01,340.63 729.53,340.57 730.05,340.51 730.57,340.44 731.10,340.38 731.62,340.31 732.14,340.25 732.66,340.19 733.18,340.12 733.70,340.06 734.22,339.99 734.75,339.93 735.27,339.86 735.79,339.80 736.31,339.74 736.83,339.67 737.35,339.61 737.87,339.54 738.40,339.48 738.92,339.41 739.44,339.35 739.96,339.28 740.48,339.22 741.00,339.15 741.52,339.08 742.04,339.02 742.57,338.95 743.09,338.89 743.61,338.82 744.13,338.76 744.65,338.69 745.17,338.62 745.69,338.56 746.22,338.49 746.74,338.42 747.26,338.36 747.78,338.29 748.30,338.22 748.82,338.16 749.34,338.09 749.87,338.02 750.39,337.96 750.91,337.89 751.43,337.82 751.95,337.75 752.47,337.68 752.99,337.62 753.51,337.55 754.04,337.48 754.56,337.41 755.08,337.34 755.60,337.28 756.12,337.21 756.64,337.14 757.16,337.07 757.69,337.00 758.21,336.93 758.73,336.86 759.25,336.79 759.77,336.72 760.29,336.65 760.81,336.58 761.34,336.51 761.86,336.44 762.38,336.37 762.90,336.30 763.42,336.23 763.94,336.16 764.46,336.09 764.98,336.02 765.51,335.95 766.03,335.88 766.55,335.81 767.07,335.74 767.59,335.67 768.11,335.59 768.63,335.52 769.16,335.45 769.68,335.38 770.20,335.31 770.72,335.23 771.24,335.16 771.76,335.09 772.28,335.02 772.80,334.94 773.33,334.87 773.85,334.80 774.37,334.72 774.89,334.65 775.41,334.58 775.93,334.50 776.45,334.43 776.98,334.36 777.50,334.28 778.02,334.21 778.54,334.13 779.06,334.06 779.58,333.98 780.10,333.91 780.63,333.83 781.15,333.76 781.67,333.68 782.19,333.61 782.71,333.53 783.23,333.45 783.75,333.38 784.27,333.30 784.80,333.22 785.32,333.15 785.84,333.07 786.36,332.99 786.88,332.92 787.40,332.84 787.92,332.76 788.45,332.68 788.97,332.61 789.49,332.53 790.01,332.45 790.53,332.37 791.05,332.29 791.57,332.21 792.10,332.13 792.62,332.05 793.14,331.97 793.66,331.89 794.18,331.81 794.70,331.73 795.22,331.65 795.74,331.57 796.27,331.49 796.79,331.41 797.31,331.33 797.83,331.25 798.35,331.17 798.87,331.09 799.39,331.00 799.92,330.92 800.44,330.84 800.96,330.76 801.48,330.67 802.00,330.59 802.52,330.51 803.04,330.42 803.56,330.34 804.09,330.26 804.61,330.17 805.13,330.09 805.65,330.00 806.17,329.92 806.69,329.83 807.21,329.75 807.74,329.66 808.26,329.58 808.78,329.49 809.30,329.40 809.82,329.32 810.34,329.23 810.86,329.14 811.39,329.06 811.91,328.97 812.43,328.88 812.95,328.79 813.47,328.70 813.99,328.61 814.51,328.53 815.03,328.44 815.56,328.35 816.08,328.26 816.60,328.17 817.12,328.08 817.64,327.99 818.16,327.89 818.68,327.80 819.21,327.71 819.73,327.62 820.25,327.53 820.77,327.43 821.29,327.34 821.81,327.25 822.33,327.15 822.86,327.06 823.38,326.97 823.90,326.87 824.42,326.78 824.94,326.68 825.46,326.59 825.98,326.49 826.50,326.39 827.03,326.30 827.55,326.20 828.07,326.10 828.59,326.01 829.11,325.91 829.63,325.81 830.15,325.71 830.68,325.61 831.20,325.51 831.72,325.41 832.24,325.31 832.76,325.21 833.28,325.11 833.80,325.01 834.33,324.90 834.85,324.80 835.37,324.70 835.89,324.60 836.41,324.49 836.93,324.39 837.45,324.28 837.97,324.18 838.50,324.07 839.02,323.97 839.54,323.86 840.06,323.75 840.58,323.65 841.10,323.54 841.62,323.43 842.15,323.32 842.67,323.21 843.19,323.10 843.71,322.99 844.23,322.88 844.75,322.77 845.27,322.66 845.79,322.55 846.32,322.44 846.84,322.32 847.36,322.21 847.88,322.09 848.40,321.98 848.92,321.86 849.44,321.75 849.97,321.63 850.49,321.52 851.01,321.40 851.53,321.28 852.05,321.16 852.57,321.04 853.09,320.92 853.62,320.80 854.14,320.68 854.66,320.56 855.18,320.44 855.70,320.31 856.22,320.19 856.74,320.07 857.26,319.94 857.79,319.82 858.31,319.69 858.83,319.56 859.35,319.44 859.87,319.31 860.39,319.18 860.91,319.05 861.44,318.92 861.96,318.79 862.48,318.66 863.00,318.53 863.52,318.39 864.04,318.26 864.56,318.12 865.09,317.99 865.61,317.85 866.13,317.72 866.65,317.58 867.17,317.44 867.69,317.30 868.21,317.16 868.73,317.02 869.26,316.88 869.78,316.74 870.30,316.59 870.82,316.45 871.34,316.31 871.86,316.16 872.38,316.01 872.91,315.87 873.43,315.72 873.95,315.57 874.47,315.42 874.99,315.27 875.51,315.12 876.03,314.96 876.55,314.81 877.08,314.65 877.60,314.50 878.12,314.34 878.64,314.18 879.16,314.02 879.68,313.86 880.20,313.70 880.73,313.54 881.25,313.38 881.77,313.21 882.29,313.05 882.81,312.88 883.33,312.72 883.85,312.55 884.38,312.38 884.90,312.21 885.42,312.03 885.94,311.86 886.46,311.69 886.98,311.51 887.50,311.33 888.02,311.16 888.55,310.98 889.07,310.80 889.59,310.62 890.11,310.43 890.63,310.25 891.15,310.06 891.67,309.87 892.20,309.69 892.72,309.50 893.24,309.31 893.76,309.11 894.28,308.92 894.80,308.72 895.32,308.53 895.85,308.33 896.37,308.13 896.89,307.93 897.41,307.72 897.93,307.52 898.45,307.31 898.97,307.11 899.49,306.90 900.02,306.69 900.54,306.48 901.06,306.27 901.58,306.05 902.10,305.84 902.62,305.62 903.14,305.40 903.67,305.18 904.19,304.96 904.71,304.74 905.23,304.51 905.75,304.28 906.27,304.06 906.79,303.83 907.32,303.60 907.84,303.37 908.36,303.13 908.88,302.90 909.40,302.66 909.92,302.42 910.44,302.18 910.96,301.94 911.49,301.70 912.01,301.45 912.53,301.21 913.05,300.96 913.57,300.71 914.09,300.46 914.61,300.21 915.14,299.95 915.66,299.70 916.18,299.44 916.70,299.18 917.22,298.92 917.74,298.66 918.26,298.40 918.78,298.14 919.31,297.87 919.83,297.60 920.35,297.33 920.87,297.06 921.39,296.79 921.91,296.52 922.43,296.24 922.96,295.96 923.48,295.68 924.00,295.40 924.52,295.12 925.04,294.84 925.56,294.56 926.08,294.27 926.61,293.98 927.13,293.69 927.65,293.40 928.17,293.11 928.69,292.81 929.21,292.52 929.73,292.22 930.25,291.92 930.78,291.62 931.30,291.32 931.82,291.02 932.34,290.72 932.86,290.41 933.38,290.10 933.90,289.80 934.43,289.49 934.95,289.17 935.47,288.86 935.99,288.55 936.51,288.23 937.03,287.92 937.55,287.60 938.08,287.28 938.60,286.96 939.12,286.64 939.64,286.32 940.16,285.99 940.68,285.67 941.20,285.34 941.72,285.01 942.25,284.68 942.77,284.36 943.29,284.03 943.81,283.69 944.33,283.36 944.85,283.03 945.37,282.69 945.90,282.36 946.42,282.02 946.94,281.69 947.46,281.35 947.98,281.01 948.50,280.68 949.02,280.34 949.54,280.00 950.07,279.66 950.59,279.32 951.11,278.98 951.63,278.63 952.15,278.29 952.67,277.95 953.19,277.60 953.72,277.26 954.24,276.91 954.76,276.56 955.28,276.21 955.80,275.85 956.32,275.50 956.84,275.14 957.37,274.78 957.89,274.42 958.41,274.05 958.93,273.69 959.45,273.32 959.97,272.94 960.49,272.56 961.01,272.18 961.54,271.79 962.06,271.40 962.58,271.01 963.10,270.61 963.62,270.20 964.14,269.79 964.66,269.37 965.19,268.95 965.71,268.52 966.23,268.08 966.75,267.64 967.27,267.19 967.79,266.73 968.31,266.26 968.84,265.78 969.36,265.29 969.88,264.79 970.40,264.28 970.92,263.76 971.44,263.23 971.96,262.69 972.48,262.13 973.01,261.55 973.53,260.97 974.05,260.36 974.57,259.74 975.09,259.11 975.61,258.45 976.13,257.78 976.66,257.10 977.18,256.39 977.70,255.67 978.22,254.93 978.74,254.18 979.26,253.41 979.78,252.62 980.31,251.82 980.83,251.00 981.35,250.16 981.87,249.30 982.39,248.43 982.91,247.55 983.43,246.64 983.95,245.73 984.48,244.79 985.00,243.84 985.52,242.88 986.04,241.89 986.56,240.88 987.08,239.86 987.60,238.81 988.13,237.74 988.65,236.65 989.17,235.53 989.69,234.39 990.21,233.22 990.73,232.02 991.25,230.79 991.77,229.53 992.30,228.23 992.82,226.90 993.34,225.53 993.86,224.12 994.38,222.67 994.90,221.17 995.42,219.63 995.95,218.03 996.47,216.37 996.99,214.66 997.51,212.88 998.03,211.03 998.55,209.11 999.07,207.10 999.60,205.01 1000.12,202.82 1000.64,200.53 1001.16,198.13 1001.68,195.60 1002.20,192.95 1002.72,190.17 1003.24,187.26 1003.77,184.21 1004.29,181.03 1004.81,177.72 1005.33,174.29 1005.85,170.73 1006.37,167.06 1006.89,163.30 1007.42,159.42 1007.43,159.34 1007.58,158.13 1007.74,156.90 1007.90,155.66 1007.94,155.39 1008.06,154.40 1008.22,153.13 1008.38,151.83 1008.46,151.18 1008.54,150.51 1008.70,149.17 1008.86,147.81 1008.98,146.74 1009.01,146.43 1009.17,145.03 1009.33,143.60 1009.49,142.15 1009.50,142.06 1009.65,140.67 1009.81,139.18 1009.97,137.66 1010.02,137.13 1010.13,136.11 1010.29,134.54 1010.44,132.95 1010.54,131.95 1010.60,131.34 1010.76,129.70 1010.92,128.04 1011.07,126.52 1011.08,126.36 1011.24,124.66 1011.40,122.93 1011.56,121.19 1011.59,120.87 1011.72,119.43 1011.87,117.66 1012.03,115.87 1012.11,115.03 1012.19,114.07 1012.35,112.26 1012.51,110.45 1012.63,109.09 1012.67,108.64 1012.83,106.83 1012.99,105.04 1013.15,103.25 1013.15,103.20 1013.30,101.47 1013.46,99.71 1013.62,97.95 1013.67,97.41 1013.78,96.21 1013.94,94.49 1014.10,92.78 1014.19,91.78 1014.26,91.09 1014.42,89.41 1014.58,87.74 1014.71,86.30 1014.73,86.09 1014.89,84.44 1015.05,82.78 1015.21,81.09 1015.24,80.82 1015.37,79.35 1015.53,77.50 1015.69,75.46 1015.76,74.48 1015.85,73.08 1016.01,70.07 1016.16,65.84 1016.28,61.35 1016.32,59.02 1016.48,51.69 1016.64,51.69 1016.80,51.69" stroke="#1a476f" stroke-width="1.9" fill="none" stroke-linejoin="round" stroke-linecap="butt"/>
<path d="M548.1 36.5V384.2H1016.8M542.7 384.2H548.1M542.7 268.3H548.1M542.7 152.4H548.1M542.7 36.5H548.1M548.1 384.2V389.7M641.84 384.2V389.7M735.58 384.2V389.7M829.32 384.2V389.7M923.06 384.2V389.7M1016.8 384.2V389.7" stroke="#474b4c" stroke-width="1.3" fill="none"/>
<text transform="translate(540 388.13) scale(0.930 1)" font-family="'Liberation Sans', sans-serif" font-weight="normal" font-size="10.2" text-anchor="end" fill="#1e1e1e">0</text>
<text transform="translate(540 272.23) scale(0.930 1)" font-family="'Liberation Sans', sans-serif" font-weight="normal" font-size="10.2" text-anchor="end" fill="#1e1e1e">10</text>
<text transform="translate(540 156.33) scale(0.930 1)" font-family="'Liberation Sans', sans-serif" font-weight="normal" font-size="10.2" text-anchor="end" fill="#1e1e1e">20</text>
<text transform="translate(540 40.43) scale(0.930 1)" font-family="'Liberation Sans', sans-serif" font-weight="normal" font-size="10.2" text-anchor="end" fill="#1e1e1e">30</text>
<text transform="translate(548.1 401.95) scale(0.930 1)" font-family="'Liberation Sans', sans-serif" font-weight="normal" font-size="10.2" text-anchor="middle" fill="#1e1e1e">0</text>
<text transform="translate(641.84 401.95) scale(0.930 1)" font-family="'Liberation Sans', sans-serif" font-weight="normal" font-size="10.2" text-anchor="middle" fill="#1e1e1e">.2</text>
<text transform="translate(735.58 401.95) scale(0.930 1)" font-family="'Liberation Sans', sans-serif" font-weight="normal" font-size="10.2" text-anchor="middle" fill="#1e1e1e">.4</text>
<text transform="translate(829.32 401.95) scale(0.930 1)" font-family="'Liberation Sans', sans-serif" font-weight="normal" font-size="10.2" text-anchor="middle" fill="#1e1e1e">.6</text>
<text transform="translate(923.06 401.95) scale(0.930 1)" font-family="'Liberation Sans', sans-serif" font-weight="normal" font-size="10.2" text-anchor="middle" fill="#1e1e1e">.8</text>
<text transform="translate(1016.8 401.95) scale(0.930 1)" font-family="'Liberation Sans', sans-serif" font-weight="normal" font-size="10.2" text-anchor="middle" fill="#1e1e1e">1</text>
<text transform="translate(788.5 420.7) scale(0.975 1)" font-family="'Liberation Sans', sans-serif" font-weight="normal" font-size="10.9" text-anchor="middle" fill="#1e1e1e">Cumulative proportion of population, ranked from poorest to richest</text>
<text transform="translate(523.3 209) rotate(-90)" font-family="'Liberation Sans', sans-serif" font-size="11.2" text-anchor="middle" fill="#1e1e1e" textLength="154.3" lengthAdjust="spacingAndGlyphs">Consumption as multiple of PL</text>
<path d="M553.2 49.5H584.5" stroke="#1a476f" stroke-width="1.6"/>
<path d="M553.2 68.7H584.5" stroke="#90353b" stroke-width="1.6"/>
<text transform="translate(591.5 52.9) scale(0.995 1)" font-family="'Liberation Sans', sans-serif" font-weight="normal" font-size="9.0" text-anchor="start" fill="#1e1e1e">pre-OOP consumption</text>
<text transform="translate(591.5 72) scale(0.995 1)" font-family="'Liberation Sans', sans-serif" font-weight="normal" font-size="9.0" text-anchor="start" fill="#1e1e1e">post-OOP consumption</text>
<text x="512.7" y="467.3" font-family="'Liberation Serif', serif" font-weight="bold" font-size="25" text-anchor="middle" fill="#000">Palestine</text>
<rect x="268.5" y="477.3" width="488.1" height="375.7" fill="none" stroke="#e8eff1" stroke-width="1.6"/>
<path d="M307.6 745.9H750M307.6 682.2H750M307.6 618.5H750M307.6 554.8H750M307.6 491.1H750" stroke="#eaf1f2" stroke-width="1.8" fill="none"/>
<path d="M306.8 796.86H752.5" stroke="#c2073a" stroke-width="1.8" fill="none"/>
<path d="M306.5 804.4V805.8M307.5 800.4V803.3M308.5 799.4V802.3M309.5 799.0V799.8M310.5 798.7V799.7M311.5 798.3V799.4M312.5 797.8V800.8M313.5 797.4V799.3M314.5 796.9V799.3M315.5 796.6V798.3M316.5 796.2V797.4M317.5 795.9V796.8M318.5 795.6V799.2M319.5 795.3V798.8M320.5 795.1V796.2M321.5 794.8V799.3M322.5 794.6V796.2M323.5 794.4V796.3M324.5 794.2V796.0M325.5 794.0V795.0M326.5 793.8V795.1M327.5 793.6V794.6M328.5 793.4V794.6M329.5 793.2V794.4M330.5 793.0V794.4M331.5 792.8V797.7M332.5 792.7V794.7M333.5 792.5V798.0M334.5 792.3V793.5M335.5 792.1V794.0M336.5 792.0V794.6M337.5 791.8V795.4M338.5 791.6V794.9M339.5 791.5V795.0M340.5 791.3V793.0M341.5 791.2V793.9M342.5 791.0V792.3M343.5 790.8V796.1M344.5 790.7V792.3M345.5 790.5V792.7M346.5 790.4V792.3M347.5 790.2V791.6M348.5 790.1V791.4M349.5 789.9V791.9M350.5 789.8V794.7M351.5 789.6V791.1M352.5 789.5V791.2M353.5 789.3V792.3M354.5 789.2V790.9M355.5 789.0V794.2M356.5 788.9V792.0M357.5 788.7V791.3M358.5 788.6V791.5M359.5 788.5V791.3M360.5 788.3V789.9M361.5 788.2V793.7M362.5 788.0V789.8M363.5 787.9V792.8M364.5 787.8V789.7M365.5 787.6V793.0M366.5 787.5V789.4M367.5 787.4V795.6M368.5 787.2V791.6M369.5 787.1V792.7M370.5 787.0V792.0M371.5 786.8V789.4M372.5 786.7V792.4M373.5 786.6V792.6M374.5 786.4V788.0M375.5 786.3V789.8M376.5 786.2V791.4M377.5 786.0V792.8M378.5 785.9V792.9M379.5 785.8V787.7M380.5 785.7V788.7M381.5 785.5V788.6M382.5 785.4V787.1M383.5 785.3V788.7M384.5 785.1V790.2M385.5 785.0V788.1M386.5 784.9V787.4M387.5 784.8V788.3M388.5 784.6V787.2M389.5 784.5V787.4M390.5 784.4V787.3M391.5 784.3V787.5M392.5 784.1V785.7M393.5 784.0V787.6M394.5 783.9V786.8M395.5 783.8V785.9M396.5 783.7V785.3M397.5 783.5V787.2M398.5 783.4V792.8M399.5 783.3V788.9M400.5 783.2V789.4M401.5 783.1V786.1M402.5 782.9V784.6M403.5 782.8V785.2M404.5 782.7V792.3M405.5 782.6V784.5M406.5 782.5V784.3M407.5 782.3V786.3M408.5 782.2V784.0M409.5 782.1V788.2M410.5 782.0V785.3M411.5 781.9V784.4M412.5 781.7V784.9M413.5 781.6V784.8M414.5 781.5V784.8M415.5 781.4V783.7M416.5 781.3V786.3M417.5 781.2V782.9M418.5 781.1V786.6M419.5 780.9V783.0M420.5 780.8V783.5M421.5 780.7V782.8M422.5 780.6V783.3M423.5 780.5V784.3M424.5 780.4V783.2M425.5 780.3V787.3M426.5 780.1V784.5M427.5 780.0V781.9M428.5 779.9V785.2M429.5 779.8V783.7M430.5 779.7V782.6M431.5 779.6V782.5M432.5 779.5V785.1M433.5 779.4V783.6M434.5 779.2V782.7M435.5 779.1V782.5M436.5 779.0V784.6M437.5 778.9V787.8M438.5 778.8V784.1M439.5 778.7V781.3M440.5 778.6V781.4M441.5 778.5V790.2M442.5 778.4V780.3M443.5 778.3V780.8M444.5 778.1V780.1M445.5 778.0V781.7M446.5 777.9V784.8M447.5 777.8V788.5M448.5 777.7V783.7M449.5 777.6V783.7M450.5 777.5V787.2M451.5 777.4V780.8M452.5 777.3V783.8M453.5 777.2V785.8M454.5 777.1V783.8M455.5 777.0V781.2M456.5 776.8V787.1M457.5 776.7V779.9M458.5 776.6V780.2M459.5 776.5V778.6M460.5 776.4V781.4M461.5 776.3V785.0M462.5 776.2V778.5M463.5 776.1V780.9M464.5 776.0V787.9M465.5 775.9V786.0M466.5 775.8V781.6M467.5 775.6V781.5M468.5 775.5V780.6M469.5 775.4V787.3M470.5 775.3V779.7M471.5 775.2V778.6M472.5 775.1V780.4M473.5 775.0V784.1M474.5 774.9V779.1M475.5 774.8V782.1M476.5 774.7V777.3M477.5 774.5V777.2M478.5 774.4V784.9M479.5 774.3V777.3M480.5 774.2V779.6M481.5 774.1V782.5M482.5 774.0V777.7M483.5 773.9V777.6M484.5 773.8V783.7M485.5 773.6V779.8M486.5 773.5V775.9M487.5 773.4V776.4M488.5 773.3V779.5M489.5 773.2V775.7M490.5 773.1V776.0M491.5 773.0V775.7M492.5 772.8V777.2M493.5 772.7V776.3M494.5 772.6V776.4M495.5 772.5V776.4M496.5 772.4V780.4M497.5 772.2V774.6M498.5 772.1V777.1M499.5 772.0V784.5M500.5 771.9V776.0M501.5 771.8V778.8M502.5 771.6V778.5M503.5 771.5V775.2M504.5 771.4V779.0M505.5 771.3V775.9M506.5 771.1V778.7M507.5 771.0V781.0M508.5 770.9V776.6M509.5 770.8V773.8M510.5 770.6V773.2M511.5 770.5V773.5M512.5 770.4V776.0M513.5 770.2V773.6M514.5 770.1V776.4M515.5 770.0V777.1M516.5 769.9V780.7M517.5 769.7V772.4M518.5 769.6V774.7M519.5 769.5V773.0M520.5 769.3V772.9M521.5 769.2V777.7M522.5 769.0V781.8M523.5 768.9V775.2M524.5 768.8V771.4M525.5 768.6V774.6M526.5 768.5V772.0M527.5 768.3V778.8M528.5 768.2V778.8M529.5 768.0V771.2M530.5 767.9V779.8M531.5 767.8V785.1M532.5 767.6V777.9M533.5 767.5V770.2M534.5 767.3V784.3M535.5 767.2V771.5M536.5 767.0V773.4M537.5 766.8V769.6M538.5 766.7V782.0M539.5 766.5V770.1M540.5 766.4V770.9M541.5 766.2V771.3M542.5 766.1V770.3M543.5 765.9V772.0M544.5 765.7V770.2M545.5 765.6V776.1M546.5 765.4V770.6M547.5 765.2V780.6M548.5 765.1V771.7M549.5 764.9V770.5M550.5 764.7V767.7M551.5 764.6V769.0M552.5 764.4V767.5M553.5 764.2V767.4M554.5 764.0V769.8M555.5 763.9V775.5M556.5 763.7V773.3M557.5 763.5V766.8M558.5 763.3V773.4M559.5 763.1V770.9M560.5 762.9V771.7M561.5 762.8V767.2M562.5 762.6V769.3M563.5 762.4V769.3M564.5 762.2V769.2M565.5 762.0V775.4M566.5 761.8V765.0M567.5 761.6V765.2M568.5 761.4V773.0M569.5 761.3V765.9M570.5 761.1V764.5M571.5 760.9V772.4M572.5 760.7V766.7M573.5 760.5V766.8M574.5 760.3V770.8M575.5 760.1V765.8M576.5 759.9V770.6M577.5 759.7V763.4M578.5 759.5V765.9M579.5 759.3V768.8M580.5 759.1V763.8M581.5 758.9V767.4M582.5 758.7V762.5M583.5 758.4V762.0M584.5 758.2V768.7M585.5 758.0V766.0M586.5 757.8V762.0M587.5 757.6V765.9M588.5 757.4V771.1M589.5 757.2V769.1M590.5 757.0V779.7M591.5 756.7V762.4M592.5 756.5V762.6M593.5 756.3V771.7M594.5 756.1V762.3M595.5 755.9V771.4M596.5 755.6V764.4M597.5 755.4V761.2M598.5 755.2V765.3M599.5 755.0V759.3M600.5 754.7V764.8M601.5 754.5V764.9M602.5 754.3V768.8M603.5 754.0V766.3M604.5 753.8V758.1M605.5 753.5V761.1M606.5 753.3V763.3M607.5 753.1V761.0M608.5 752.8V765.4M609.5 752.6V768.7M610.5 752.3V760.6M611.5 752.1V765.3M612.5 751.8V760.3M613.5 751.6V765.1M614.5 751.3V778.0M615.5 751.0V756.8M616.5 750.8V759.4M617.5 750.5V760.0M618.5 750.2V766.4M619.5 750.0V759.8M620.5 749.7V768.9M621.5 749.4V756.3M622.5 749.2V754.4M623.5 748.9V759.3M624.5 748.6V756.3M625.5 748.3V753.8M626.5 748.0V760.0M627.5 747.7V754.4M628.5 747.4V758.7M629.5 747.1V773.6M630.5 746.8V753.5M631.5 746.5V756.3M632.5 746.2V752.0M633.5 745.9V768.6M634.5 745.6V751.3M635.5 745.3V753.4M636.5 745.0V771.7M637.5 744.6V764.2M638.5 744.3V751.4M639.5 744.0V750.7M640.5 743.6V755.8M641.5 743.3V765.5M642.5 743.0V754.1M643.5 742.6V753.1M644.5 742.3V750.1M645.5 741.9V761.1M646.5 741.5V748.6M647.5 741.2V763.9M648.5 740.8V752.7M649.5 740.4V758.6M650.5 740.0V752.8M651.5 739.6V753.1M652.5 739.2V749.8M653.5 738.8V751.2M654.5 738.4V749.2M655.5 738.0V747.2M656.5 737.6V748.2M657.5 737.2V744.5M658.5 736.8V744.0M659.5 736.3V746.9M660.5 735.9V748.1M661.5 735.4V742.9M662.5 735.0V749.8M663.5 734.5V750.9M664.5 734.0V746.8M665.5 733.5V755.3M666.5 733.1V754.6M667.5 732.6V759.5M668.5 732.0V750.3M669.5 731.5V758.1M670.5 731.0V741.4M671.5 730.5V768.5M672.5 729.9V750.7M673.5 729.4V738.3M674.5 728.8V740.3M675.5 728.3V738.7M676.5 727.7V744.3M677.5 727.1V739.1M678.5 726.5V738.8M679.5 725.9V766.8M680.5 725.3V771.1M681.5 724.6V745.8M682.5 724.0V734.0M683.5 723.3V742.6M684.5 722.7V732.6M685.5 722.0V752.6M686.5 721.3V731.7M687.5 720.6V730.7M688.5 719.8V730.8M689.5 719.1V732.1M690.5 718.3V732.0M691.5 717.6V729.5M692.5 716.8V731.6M693.5 716.0V764.1M694.5 715.2V727.2M695.5 714.3V748.5M696.5 713.4V732.2M697.5 712.6V738.0M698.5 711.7V730.9M699.5 710.7V723.7M700.5 709.8V755.1M701.5 708.8V732.8M702.5 707.8V743.8M703.5 706.8V720.1M704.5 705.8V731.0M705.5 704.7V734.9M706.5 703.6V767.6M707.5 702.5V727.3M708.5 701.3V751.8M709.5 700.1V721.3M710.5 698.9V713.3M711.5 697.7V722.5M712.5 696.4V712.0M713.5 695.0V710.2M714.5 693.7V708.9M715.5 692.2V710.6M716.5 690.8V720.0M717.5 689.3V711.7M718.5 687.7V717.3M719.5 686.1V720.1M720.5 684.4V709.9M721.5 682.7V712.9M722.5 680.9V707.4M723.5 679.0V702.0M724.5 677.1V702.4M725.5 675.1V717.0M726.5 673.0V708.7M727.5 670.8V710.6M728.5 668.5V697.8M729.5 666.1V729.4M730.5 663.6V688.9M731.5 661.0V696.1M732.5 658.3V760.4M733.5 655.4V751.8M734.5 652.3V725.5M735.5 649.1V739.5M736.5 645.7V686.1M737.5 642.0V671.5M738.5 638.1V681.5M739.5 634.0V683.0M740.5 629.5V686.4M741.5 624.7V695.3M742.5 619.5V655.5M743.5 613.8V659.3M744.5 607.5V651.3M745.5 600.5V707.3M746.5 592.4V667.1M747.5 583.0V640.4M748.5 571.5V748.6M749.5 556.9V621.3M750.5 535.7V645.4M751.5 493.7V671.4M752.5 481.3V541.5M635.5 745.4V794.3M720.5 685.3V763.7M735.5 650.7V735.7M750.5 547.5V751.0M746.5 596.6V688.6M581.5 759.0V785.4M480.5 774.3V791.4" stroke="#90353b" stroke-width="1" fill="none"/>
<polyline points="306.80,804.38 307.30,803.13 307.79,800.89 308.29,800.00 308.78,799.56 309.28,799.29 309.77,799.09 310.27,798.91 310.77,798.74 311.26,798.56 311.76,798.36 312.25,798.15 312.75,797.93 313.25,797.70 313.74,797.48 314.24,797.26 314.73,797.05 315.23,796.85 315.72,796.66 316.22,796.48 316.72,796.30 317.21,796.14 317.71,795.98 318.20,795.83 318.70,795.68 319.19,795.54 319.69,795.41 320.19,795.28 320.68,795.15 321.18,795.03 321.67,794.91 322.17,794.79 322.66,794.68 323.16,794.57 323.66,794.46 324.15,794.35 324.65,794.24 325.14,794.14 325.64,794.04 326.14,793.94 326.63,793.84 327.13,793.74 327.62,793.65 328.12,793.55 328.61,793.46 329.11,793.37 329.61,793.27 330.10,793.18 330.60,793.09 331.09,793.00 331.59,792.91 332.08,792.82 332.58,792.74 333.08,792.65 333.57,792.56 334.07,792.47 334.56,792.39 335.06,792.30 335.55,792.22 336.05,792.13 336.55,792.05 337.04,791.97 337.54,791.88 338.03,791.80 338.53,791.72 339.03,791.64 339.52,791.56 340.02,791.47 340.51,791.39 341.01,791.31 341.50,791.23 342.00,791.15 342.50,791.07 342.99,791.00 343.49,790.92 343.98,790.84 344.48,790.76 344.97,790.68 345.47,790.61 345.97,790.53 346.46,790.45 346.96,790.38 347.45,790.30 347.95,790.23 348.44,790.15 348.94,790.08 349.44,790.00 349.93,789.93 350.43,789.85 350.92,789.78 351.42,789.70 351.92,789.63 352.41,789.56 352.91,789.48 353.40,789.41 353.90,789.34 354.39,789.27 354.89,789.19 355.39,789.12 355.88,789.05 356.38,788.98 356.87,788.91 357.37,788.84 357.86,788.77 358.36,788.70 358.86,788.63 359.35,788.56 359.85,788.49 360.34,788.42 360.84,788.35 361.34,788.28 361.83,788.21 362.33,788.14 362.82,788.07 363.32,788.00 363.81,787.93 364.31,787.86 364.81,787.80 365.30,787.73 365.80,787.66 366.29,787.59 366.79,787.52 367.28,787.46 367.78,787.39 368.28,787.32 368.77,787.26 369.27,787.19 369.76,787.12 370.26,787.06 370.75,786.99 371.25,786.92 371.75,786.86 372.24,786.79 372.74,786.73 373.23,786.66 373.73,786.60 374.23,786.53 374.72,786.47 375.22,786.40 375.71,786.34 376.21,786.27 376.70,786.21 377.20,786.14 377.70,786.08 378.19,786.01 378.69,785.95 379.18,785.88 379.68,785.82 380.17,785.76 380.67,785.69 381.17,785.63 381.66,785.57 382.16,785.50 382.65,785.44 383.15,785.38 383.64,785.31 384.14,785.25 384.64,785.19 385.13,785.12 385.63,785.06 386.12,785.00 386.62,784.94 387.12,784.88 387.61,784.81 388.11,784.75 388.60,784.69 389.10,784.63 389.59,784.57 390.09,784.50 390.59,784.44 391.08,784.38 391.58,784.32 392.07,784.26 392.57,784.20 393.06,784.14 393.56,784.08 394.06,784.01 394.55,783.95 395.05,783.89 395.54,783.83 396.04,783.77 396.53,783.71 397.03,783.65 397.53,783.59 398.02,783.53 398.52,783.47 399.01,783.41 399.51,783.35 400.01,783.29 400.50,783.23 401.00,783.17 401.49,783.11 401.99,783.05 402.48,782.99 402.98,782.93 403.48,782.87 403.97,782.81 404.47,782.76 404.96,782.70 405.46,782.64 405.95,782.58 406.45,782.52 406.95,782.46 407.44,782.40 407.94,782.34 408.43,782.29 408.93,782.23 409.43,782.17 409.92,782.11 410.42,782.05 410.91,781.99 411.41,781.94 411.90,781.88 412.40,781.82 412.90,781.76 413.39,781.70 413.89,781.65 414.38,781.59 414.88,781.53 415.37,781.47 415.87,781.42 416.37,781.36 416.86,781.30 417.36,781.24 417.85,781.19 418.35,781.13 418.84,781.07 419.34,781.02 419.84,780.96 420.33,780.90 420.83,780.84 421.32,780.79 421.82,780.73 422.32,780.67 422.81,780.62 423.31,780.56 423.80,780.51 424.30,780.45 424.79,780.39 425.29,780.34 425.79,780.28 426.28,780.22 426.78,780.17 427.27,780.11 427.77,780.06 428.26,780.00 428.76,779.94 429.26,779.89 429.75,779.83 430.25,779.78 430.74,779.72 431.24,779.67 431.73,779.61 432.23,779.56 432.73,779.50 433.22,779.44 433.72,779.39 434.21,779.33 434.71,779.28 435.21,779.22 435.70,779.17 436.20,779.11 436.69,779.06 437.19,779.00 437.68,778.95 438.18,778.89 438.68,778.84 439.17,778.78 439.67,778.73 440.16,778.68 440.66,778.62 441.15,778.57 441.65,778.51 442.15,778.46 442.64,778.40 443.14,778.35 443.63,778.30 444.13,778.24 444.62,778.19 445.12,778.13 445.62,778.08 446.11,778.02 446.61,777.97 447.10,777.92 447.60,777.86 448.10,777.81 448.59,777.75 449.09,777.70 449.58,777.65 450.08,777.59 450.57,777.54 451.07,777.49 451.57,777.43 452.06,777.38 452.56,777.32 453.05,777.27 453.55,777.22 454.04,777.16 454.54,777.11 455.04,777.06 455.53,777.00 456.03,776.95 456.52,776.89 457.02,776.84 457.52,776.79 458.01,776.73 458.51,776.68 459.00,776.63 459.50,776.57 459.99,776.52 460.49,776.46 460.99,776.41 461.48,776.36 461.98,776.30 462.47,776.25 462.97,776.20 463.46,776.14 463.96,776.09 464.46,776.03 464.95,775.98 465.45,775.93 465.94,775.87 466.44,775.82 466.93,775.76 467.43,775.71 467.93,775.66 468.42,775.60 468.92,775.55 469.41,775.49 469.91,775.44 470.41,775.38 470.90,775.33 471.40,775.27 471.89,775.22 472.39,775.17 472.88,775.11 473.38,775.06 473.88,775.00 474.37,774.95 474.87,774.89 475.36,774.84 475.86,774.78 476.35,774.73 476.85,774.67 477.35,774.62 477.84,774.56 478.34,774.51 478.83,774.45 479.33,774.40 479.82,774.34 480.32,774.29 480.82,774.23 481.31,774.17 481.81,774.12 482.30,774.06 482.80,774.01 483.30,773.95 483.79,773.89 484.29,773.84 484.78,773.78 485.28,773.73 485.77,773.67 486.27,773.61 486.77,773.56 487.26,773.50 487.76,773.44 488.25,773.38 488.75,773.33 489.24,773.27 489.74,773.21 490.24,773.16 490.73,773.10 491.23,773.04 491.72,772.98 492.22,772.93 492.71,772.87 493.21,772.81 493.71,772.75 494.20,772.69 494.70,772.63 495.19,772.58 495.69,772.52 496.19,772.46 496.68,772.40 497.18,772.34 497.67,772.28 498.17,772.22 498.66,772.16 499.16,772.10 499.66,772.04 500.15,771.98 500.65,771.92 501.14,771.86 501.64,771.80 502.13,771.74 502.63,771.68 503.13,771.62 503.62,771.56 504.12,771.50 504.61,771.44 505.11,771.38 505.61,771.32 506.10,771.25 506.60,771.19 507.09,771.13 507.59,771.07 508.08,771.01 508.58,770.94 509.08,770.88 509.57,770.82 510.07,770.75 510.56,770.69 511.06,770.63 511.55,770.56 512.05,770.50 512.55,770.44 513.04,770.37 513.54,770.31 514.03,770.24 514.53,770.18 515.02,770.11 515.52,770.05 516.02,769.98 516.51,769.92 517.01,769.85 517.50,769.79 518.00,769.72 518.50,769.65 518.99,769.59 519.49,769.52 519.98,769.45 520.48,769.39 520.97,769.32 521.47,769.25 521.97,769.18 522.46,769.12 522.96,769.05 523.45,768.98 523.95,768.91 524.44,768.84 524.94,768.77 525.44,768.70 525.93,768.63 526.43,768.56 526.92,768.49 527.42,768.42 527.91,768.35 528.41,768.28 528.91,768.21 529.40,768.14 529.90,768.06 530.39,767.99 530.89,767.92 531.39,767.85 531.88,767.77 532.38,767.70 532.87,767.63 533.37,767.55 533.86,767.48 534.36,767.40 534.86,767.33 535.35,767.25 535.85,767.18 536.34,767.10 536.84,767.03 537.33,766.95 537.83,766.88 538.33,766.80 538.82,766.72 539.32,766.64 539.81,766.57 540.31,766.49 540.80,766.41 541.30,766.33 541.80,766.25 542.29,766.17 542.79,766.09 543.28,766.01 543.78,765.93 544.28,765.85 544.77,765.77 545.27,765.69 545.76,765.61 546.26,765.53 546.75,765.44 547.25,765.36 547.75,765.28 548.24,765.19 548.74,765.11 549.23,765.03 549.73,764.94 550.22,764.86 550.72,764.77 551.22,764.69 551.71,764.60 552.21,764.52 552.70,764.43 553.20,764.34 553.69,764.26 554.19,764.17 554.69,764.08 555.18,764.00 555.68,763.91 556.17,763.82 556.67,763.73 557.17,763.64 557.66,763.56 558.16,763.47 558.65,763.38 559.15,763.29 559.64,763.20 560.14,763.11 560.64,763.02 561.13,762.92 561.63,762.83 562.12,762.74 562.62,762.65 563.11,762.56 563.61,762.47 564.11,762.37 564.60,762.28 565.10,762.19 565.59,762.09 566.09,762.00 566.59,761.91 567.08,761.81 567.58,761.72 568.07,761.62 568.57,761.53 569.06,761.43 569.56,761.34 570.06,761.24 570.55,761.15 571.05,761.05 571.54,760.95 572.04,760.86 572.53,760.76 573.03,760.66 573.53,760.56 574.02,760.47 574.52,760.37 575.01,760.27 575.51,760.17 576.00,760.07 576.50,759.97 577.00,759.88 577.49,759.78 577.99,759.68 578.48,759.58 578.98,759.48 579.48,759.38 579.97,759.27 580.47,759.17 580.96,759.07 581.46,758.97 581.95,758.87 582.45,758.77 582.95,758.67 583.44,758.56 583.94,758.46 584.43,758.36 584.93,758.25 585.42,758.15 585.92,758.05 586.42,757.94 586.91,757.84 587.41,757.73 587.90,757.63 588.40,757.52 588.89,757.41 589.39,757.31 589.89,757.20 590.38,757.10 590.88,756.99 591.37,756.88 591.87,756.77 592.37,756.66 592.86,756.56 593.36,756.45 593.85,756.34 594.35,756.23 594.84,756.12 595.34,756.01 595.84,755.90 596.33,755.79 596.83,755.68 597.32,755.56 597.82,755.45 598.31,755.34 598.81,755.23 599.31,755.11 599.80,755.00 600.30,754.89 600.79,754.77 601.29,754.66 601.78,754.54 602.28,754.42 602.78,754.31 603.27,754.19 603.77,754.08 604.26,753.96 604.76,753.84 605.26,753.72 605.75,753.60 606.25,753.48 606.74,753.36 607.24,753.24 607.73,753.12 608.23,753.00 608.73,752.88 609.22,752.76 609.72,752.64 610.21,752.51 610.71,752.39 611.20,752.27 611.70,752.14 612.20,752.02 612.69,751.89 613.19,751.77 613.68,751.64 614.18,751.51 614.68,751.38 615.17,751.26 615.67,751.13 616.16,751.00 616.66,750.87 617.15,750.74 617.65,750.61 618.15,750.48 618.64,750.34 619.14,750.21 619.63,750.08 620.13,749.94 620.62,749.81 621.12,749.67 621.62,749.54 622.11,749.40 622.61,749.26 623.10,749.13 623.60,748.99 624.09,748.85 624.59,748.71 625.09,748.57 625.58,748.43 626.08,748.29 626.57,748.14 627.07,748.00 627.57,747.86 628.06,747.71 628.56,747.57 629.05,747.42 629.55,747.27 630.04,747.13 630.54,746.98 631.04,746.83 631.53,746.68 632.03,746.53 632.52,746.37 633.02,746.22 633.51,746.07 634.01,745.91 634.51,745.76 635.00,745.60 635.50,745.45 635.99,745.29 636.49,745.13 636.98,744.97 637.48,744.81 637.98,744.65 638.47,744.49 638.97,744.32 639.46,744.16 639.96,743.99 640.46,743.83 640.95,743.66 641.45,743.49 641.94,743.32 642.44,743.15 642.93,742.98 643.43,742.81 643.93,742.63 644.42,742.46 644.92,742.28 645.41,742.11 645.91,741.93 646.40,741.75 646.90,741.57 647.40,741.39 647.89,741.21 648.39,741.02 648.88,740.84 649.38,740.65 649.87,740.46 650.37,740.27 650.87,740.08 651.36,739.89 651.86,739.70 652.35,739.50 652.85,739.31 653.35,739.11 653.84,738.91 654.34,738.71 654.83,738.51 655.33,738.31 655.82,738.10 656.32,737.89 656.82,737.69 657.31,737.48 657.81,737.27 658.30,737.05 658.80,736.84 659.29,736.62 659.79,736.41 660.29,736.19 660.78,735.97 661.28,735.75 661.77,735.52 662.27,735.30 662.77,735.07 663.26,734.84 663.76,734.61 664.25,734.38 664.75,734.14 665.24,733.90 665.74,733.67 666.24,733.43 666.73,733.18 667.23,732.94 667.72,732.69 668.22,732.44 668.71,732.19 669.21,731.94 669.71,731.69 670.20,731.43 670.70,731.17 671.19,730.91 671.69,730.65 672.18,730.38 672.68,730.12 673.18,729.85 673.67,729.58 674.17,729.30 674.66,729.02 675.16,728.75 675.66,728.46 676.15,728.18 676.65,727.89 677.14,727.60 677.64,727.31 678.13,727.02 678.63,726.72 679.13,726.42 679.62,726.12 680.12,725.82 680.61,725.51 681.11,725.20 681.60,724.88 682.10,724.57 682.60,724.25 683.09,723.93 683.59,723.60 684.08,723.27 684.58,722.94 685.07,722.61 685.57,722.27 686.07,721.93 686.56,721.58 687.06,721.24 687.55,720.88 688.05,720.53 688.55,720.17 689.04,719.81 689.54,719.44 690.03,719.07 690.53,718.70 691.02,718.32 691.52,717.94 692.02,717.56 692.51,717.17 693.01,716.77 693.50,716.38 694.00,715.98 694.49,715.57 694.99,715.16 695.49,714.74 695.98,714.32 696.48,713.90 696.97,713.47 697.47,713.04 697.96,712.60 698.46,712.16 698.96,711.71 699.45,711.25 699.95,710.79 700.44,710.33 700.94,709.86 701.44,709.38 701.93,708.90 702.43,708.41 702.92,707.92 703.42,707.42 703.91,706.92 704.41,706.40 704.91,705.89 705.40,705.36 705.90,704.83 706.39,704.29 706.89,703.74 707.38,703.19 707.88,702.63 708.38,702.06 708.87,701.49 709.37,700.90 709.86,700.31 710.36,699.71 710.86,699.11 711.35,698.49 711.85,697.86 712.34,697.23 712.84,696.59 713.33,695.93 713.83,695.27 714.33,694.60 714.82,693.92 715.32,693.22 715.81,692.52 716.31,691.80 716.80,691.08 717.30,690.34 717.80,689.59 718.29,688.83 718.79,688.05 719.28,687.26 719.78,686.46 720.27,685.65 720.77,684.82 721.27,683.97 721.76,683.11 722.26,682.24 722.75,681.35 723.25,680.44 723.75,679.52 724.24,678.58 724.74,677.62 725.23,676.64 725.73,675.64 726.22,674.63 726.72,673.59 727.22,672.53 727.71,671.45 728.21,670.34 728.70,669.21 729.20,668.06 729.69,666.88 730.19,665.67 730.69,664.43 731.18,663.17 731.68,661.88 732.17,660.55 732.67,659.19 733.16,657.80 733.66,656.37 734.16,654.90 734.65,653.39 735.15,651.84 735.64,650.25 736.14,648.61 736.64,646.93 737.13,645.19 737.63,643.40 738.12,641.56 738.62,639.65 739.11,637.68 739.61,635.65 740.11,633.54 740.60,631.36 741.10,629.09 741.59,626.74 742.09,624.30 742.58,621.75 743.08,619.10 743.58,616.32 743.59,616.26 743.74,615.39 743.89,614.50 744.04,613.60 744.07,613.40 744.19,612.69 744.34,611.76 744.49,610.81 744.57,610.34 744.64,609.86 744.79,608.88 744.95,607.89 745.06,607.11 745.10,606.88 745.25,605.86 745.40,604.81 745.55,603.75 745.56,603.69 745.70,602.67 745.85,601.56 746.00,600.44 746.05,600.05 746.15,599.29 746.31,598.12 746.46,596.92 746.55,596.17 746.61,595.70 746.76,594.45 746.91,593.18 747.05,592.00 747.06,591.87 747.21,590.53 747.36,589.16 747.51,587.76 747.54,587.49 747.67,586.31 747.82,584.83 747.97,583.31 748.04,582.58 748.12,581.74 748.27,580.13 748.42,578.46 748.53,577.18 748.57,576.74 748.72,574.97 748.87,573.13 749.03,571.23 749.03,571.17 749.18,569.25 749.33,567.19 749.48,565.05 749.53,564.36 749.63,562.81 749.78,560.47 749.93,558.01 750.02,556.50 750.08,555.43 750.23,552.70 750.38,549.80 750.52,547.12 750.54,546.72 750.69,543.42 750.84,539.86 750.99,536.01 751.01,535.38 751.14,531.80 751.29,527.15 751.44,521.93 751.51,519.44 751.59,515.99 751.74,509.06 751.90,500.69 752.00,493.35 752.05,490.05 752.20,481.27 752.35,481.27 752.50,481.27" stroke="#1a476f" stroke-width="1.9" fill="none" stroke-linejoin="round" stroke-linecap="butt"/>
<path d="M306.8 481.8V809.6H752.5M301.4 809.6H306.8M301.4 745.9H306.8M301.4 682.2H306.8M301.4 618.5H306.8M301.4 554.8H306.8M301.4 491.1H306.8M306.8 809.6V815.1M395.94 809.6V815.1M485.08 809.6V815.1M574.22 809.6V815.1M663.36 809.6V815.1M752.5 809.6V815.1" stroke="#474b4c" stroke-width="1.3" fill="none"/>
<text transform="translate(299.6 813.64) scale(0.920 1)" font-family="'Liberation Sans', sans-serif" font-weight="normal" font-size="10.5" text-anchor="end" fill="#1e1e1e">0</text>
<text transform="translate(299.6 749.94) scale(0.920 1)" font-family="'Liberation Sans', sans-serif" font-weight="normal" font-size="10.5" text-anchor="end" fill="#1e1e1e">5</text>
<text transform="translate(299.6 686.24) scale(0.920 1)" font-family="'Liberation Sans', sans-serif" font-weight="normal" font-size="10.5" text-anchor="end" fill="#1e1e1e">10</text>
<text transform="translate(299.6 622.54) scale(0.920 1)" font-family="'Liberation Sans', sans-serif" font-weight="normal" font-size="10.5" text-anchor="end" fill="#1e1e1e">15</text>
<text transform="translate(299.6 558.84) scale(0.920 1)" font-family="'Liberation Sans', sans-serif" font-weight="normal" font-size="10.5" text-anchor="end" fill="#1e1e1e">20</text>
<text transform="translate(299.6 495.14) scale(0.920 1)" font-family="'Liberation Sans', sans-serif" font-weight="normal" font-size="10.5" text-anchor="end" fill="#1e1e1e">25</text>
<text transform="translate(306.8 826.96) scale(0.920 1)" font-family="'Liberation Sans', sans-serif" font-weight="normal" font-size="10.5" text-anchor="middle" fill="#1e1e1e">0</text>
<text transform="translate(395.94 826.96) scale(0.920 1)" font-family="'Liberation Sans', sans-serif" font-weight="normal" font-size="10.5" text-anchor="middle" fill="#1e1e1e">.2</text>
<text transform="translate(485.08 826.96) scale(0.920 1)" font-family="'Liberation Sans', sans-serif" font-weight="normal" font-size="10.5" text-anchor="middle" fill="#1e1e1e">.4</text>
<text transform="translate(574.22 826.96) scale(0.920 1)" font-family="'Liberation Sans', sans-serif" font-weight="normal" font-size="10.5" text-anchor="middle" fill="#1e1e1e">.6</text>
<text transform="translate(663.36 826.96) scale(0.920 1)" font-family="'Liberation Sans', sans-serif" font-weight="normal" font-size="10.5" text-anchor="middle" fill="#1e1e1e">.8</text>
<text transform="translate(752.5 826.96) scale(0.920 1)" font-family="'Liberation Sans', sans-serif" font-weight="normal" font-size="10.5" text-anchor="middle" fill="#1e1e1e">1</text>
<text transform="translate(535.4 844.3) scale(0.963 1)" font-family="'Liberation Sans', sans-serif" font-weight="normal" font-size="10.5" text-anchor="middle" fill="#1e1e1e">Cumulative proportion of population, ranked from poorest to richest</text>
<text transform="translate(282.4 645.75) rotate(-90)" font-family="'Liberation Sans', sans-serif" font-size="10.6" text-anchor="middle" fill="#1e1e1e" textLength="146.0" lengthAdjust="spacingAndGlyphs">Consumption as multiple of PL</text>
<path d="M312 494.2H342" stroke="#1a476f" stroke-width="1.6"/>
<path d="M312 512.2H342" stroke="#90353b" stroke-width="1.6"/>
<text transform="translate(348.3 497.8) scale(0.985 1)" font-family="'Liberation Sans', sans-serif" font-weight="normal" font-size="8.7" text-anchor="start" fill="#1e1e1e">pre-OOP consumption</text>
<text transform="translate(348.3 515.8) scale(0.985 1)" font-family="'Liberation Sans', sans-serif" font-weight="normal" font-size="8.7" text-anchor="start" fill="#1e1e1e">post-OOP consumption</text>
</svg></body></html>
